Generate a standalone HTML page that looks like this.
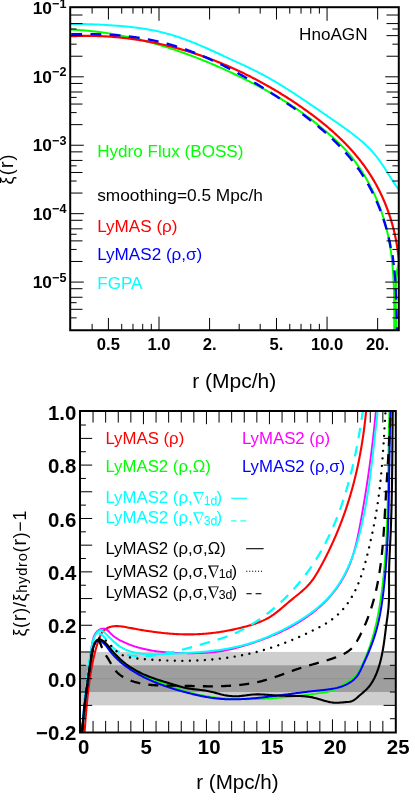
<!DOCTYPE html>
<html lang="en"><head><meta charset="utf-8"><title>xi(r) comparison</title>
<style>html,body{margin:0;padding:0;background:#fff;overflow:hidden;width:415px;height:804px;}svg{display:block;will-change:transform;}</style>
</head><body>
<svg width="415" height="804" viewBox="0 0 415 804">
<rect x="0" y="0" width="415" height="804" fill="#fff"/>
<defs><clipPath id="ct"><rect x="70.2" y="7.2" width="328.6" height="323.05"/></clipPath>
<clipPath id="cb"><rect x="80" y="411" width="315.8" height="321.5"/></clipPath></defs>
<g clip-path="url(#ct)">
<path d="M68.87 29.45 L70.09 29.5 L71.31 29.55 L72.53 29.61 L73.74 29.68 L74.96 29.75 L76.17 29.82 L77.38 29.9 L78.6 29.98 L79.81 30.06 L81.02 30.15 L82.23 30.25 L83.44 30.35 L84.64 30.45 L85.85 30.56 L87.05 30.67 L88.26 30.79 L89.46 30.91 L90.67 31.03 L91.87 31.16 L93.07 31.29 L94.27 31.43 L95.47 31.57 L96.66 31.71 L97.86 31.86 L99.06 32.01 L100.25 32.17 L101.45 32.33 L102.64 32.5 L103.83 32.66 L105.02 32.84 L106.21 33.01 L107.4 33.19 L108.59 33.38 L109.78 33.57 L110.97 33.76 L112.15 33.96 L113.34 34.16 L114.52 34.36 L115.71 34.57 L116.89 34.78 L118.07 35 L119.25 35.22 L120.43 35.44 L121.61 35.66 L122.79 35.9 L123.97 36.13 L125.14 36.37 L126.32 36.61 L127.49 36.85 L128.67 37.1 L129.84 37.36 L131.01 37.61 L132.18 37.87 L133.35 38.14 L134.52 38.4 L135.69 38.67 L136.86 38.95 L138.03 39.23 L139.19 39.51 L140.36 39.79 L141.52 40.08 L142.69 40.37 L143.85 40.67 L145.01 40.96 L146.17 41.27 L147.33 41.57 L148.49 41.88 L149.65 42.19 L150.81 42.51 L151.96 42.83 L153.12 43.15 L154.28 43.47 L155.43 43.8 L156.58 44.13 L157.74 44.47 L158.89 44.81 L160.04 45.15 L161.19 45.49 L162.34 45.84 L163.49 46.19 L164.64 46.55 L165.78 46.91 L166.93 47.27 L168.08 47.63 L169.22 48 L170.37 48.37 L171.51 48.74 L172.65 49.12 L173.79 49.49 L174.93 49.88 L176.07 50.26 L177.21 50.65 L178.35 51.04 L179.49 51.43 L180.63 51.83 L181.76 52.23 L182.9 52.63 L184.03 53.04 L185.17 53.45 L186.3 53.86 L187.43 54.27 L188.57 54.69 L189.7 55.11 L190.83 55.53 L191.96 55.96 L193.09 56.39 L194.21 56.82 L195.34 57.25 L196.47 57.69 L197.59 58.13 L198.72 58.57 L199.84 59.01 L200.96 59.46 L202.08 59.91 L203.2 60.36 L204.32 60.81 L205.44 61.27 L206.56 61.73 L207.68 62.19 L208.79 62.66 L209.91 63.13 L211.02 63.59 L212.13 64.07 L213.25 64.54 L214.36 65.02 L215.47 65.5 L216.57 65.98 L217.68 66.46 L218.79 66.95 L219.89 67.44 L221 67.93 L222.1 68.42 L223.21 68.92 L224.31 69.42 L225.41 69.92 L226.51 70.42 L227.6 70.92 L228.7 71.43 L229.8 71.94 L230.89 72.45 L231.98 72.97 L233.07 73.48 L234.17 74 L235.25 74.52 L236.34 75.04 L237.43 75.56 L238.52 76.09 L239.6 76.62 L240.68 77.15 L241.77 77.68 L242.85 78.21 L243.93 78.75 L245 79.29 L246.08 79.83 L247.16 80.37 L248.23 80.91 L249.3 81.46 L250.38 82 L251.45 82.55 L252.51 83.1 L253.58 83.66 L254.65 84.21 L255.71 84.77 L256.78 85.32 L257.84 85.88 L258.9 86.44 L259.96 87.01 L261.01 87.57 L262.07 88.14 L263.12 88.71 L264.18 89.28 L265.23 89.86 L266.28 90.43 L267.33 91.01 L268.37 91.59 L269.42 92.18 L270.46 92.76 L271.5 93.35 L272.54 93.94 L273.58 94.54 L274.62 95.14 L275.65 95.74 L276.69 96.34 L277.72 96.95 L278.75 97.56 L279.78 98.17 L280.8 98.79 L281.83 99.41 L282.85 100.03 L283.87 100.66 L284.89 101.29 L285.9 101.92 L286.92 102.56 L287.93 103.21 L288.94 103.85 L289.95 104.5 L290.96 105.16 L291.97 105.82 L292.97 106.48 L293.97 107.15 L294.97 107.82 L295.97 108.49 L296.96 109.17 L297.96 109.86 L298.95 110.55 L299.94 111.24 L300.92 111.94 L301.91 112.64 L302.89 113.35 L303.87 114.06 L304.85 114.78 L305.82 115.5 L306.8 116.22 L307.77 116.95 L308.74 117.68 L309.7 118.41 L310.67 119.15 L311.63 119.89 L312.59 120.64 L313.55 121.38 L314.5 122.13 L315.45 122.89 L316.4 123.64 L317.35 124.4 L318.3 125.16 L319.24 125.92 L320.18 126.69 L321.12 127.45 L322.05 128.22 L322.98 128.99 L323.91 129.76 L324.84 130.54 L325.76 131.31 L326.68 132.09 L327.6 132.87 L328.52 133.66 L329.43 134.44 L330.33 135.23 L331.24 136.02 L332.13 136.82 L333.03 137.62 L333.92 138.42 L334.8 139.23 L335.68 140.04 L336.55 140.86 L337.42 141.68 L338.29 142.5 L339.14 143.33 L339.99 144.17 L340.84 145.01 L341.68 145.85 L342.51 146.7 L343.34 147.56 L344.16 148.42 L344.97 149.29 L345.77 150.17 L346.57 151.05 L347.36 151.94 L348.14 152.84 L348.92 153.74 L349.68 154.65 L350.44 155.57 L351.19 156.5 L351.93 157.43 L352.67 158.37 L353.4 159.32 L354.12 160.27 L354.83 161.23 L355.54 162.19 L356.24 163.16 L356.93 164.14 L357.62 165.12 L358.3 166.11 L358.98 167.1 L359.65 168.1 L360.31 169.1 L360.97 170.11 L361.62 171.13 L362.27 172.14 L362.91 173.17 L363.55 174.19 L364.18 175.22 L364.8 176.26 L365.42 177.3 L366.03 178.35 L366.63 179.4 L367.23 180.45 L367.82 181.51 L368.41 182.57 L368.99 183.64 L369.56 184.71 L370.13 185.78 L370.69 186.86 L371.25 187.94 L371.79 189.02 L372.33 190.11 L372.87 191.2 L373.4 192.3 L373.92 193.4 L374.43 194.5 L374.94 195.6 L375.44 196.71 L375.93 197.82 L376.42 198.93 L376.9 200.05 L377.37 201.17 L377.84 202.29 L378.3 203.42 L378.75 204.54 L379.19 205.67 L379.63 206.81 L380.06 207.94 L380.48 209.08 L380.9 210.22 L381.3 211.36 L381.7 212.5 L382.1 213.64 L382.48 214.79 L382.86 215.94 L383.23 217.09 L383.59 218.24 L383.94 219.4 L384.29 220.55 L384.63 221.71 L384.96 222.87 L385.29 224.02 L385.6 225.19 L385.91 226.35 L386.21 227.51 L386.51 228.68 L386.79 229.84 L387.07 231.01 L387.35 232.18 L387.61 233.35 L387.87 234.52 L388.12 235.69 L388.37 236.86 L388.61 238.04 L388.84 239.21 L389.07 240.39 L389.29 241.57 L389.5 242.75 L389.71 243.93 L389.91 245.11 L390.11 246.29 L390.3 247.47 L390.48 248.66 L390.66 249.84 L390.83 251.03 L391 252.22 L391.16 253.4 L391.32 254.59 L391.47 255.78 L391.62 256.97 L391.76 258.16 L391.9 259.36 L392.03 260.55 L392.15 261.74 L392.28 262.94 L392.39 264.13 L392.5 265.33 L392.61 266.53 L392.72 267.72 L392.82 268.92 L392.91 270.12 L393 271.32 L393.09 272.52 L393.17 273.72 L393.25 274.92 L393.33 276.12 L393.4 277.32 L393.47 278.52 L393.53 279.73 L393.59 280.93 L393.65 282.13 L393.7 283.34 L393.76 284.54 L393.8 285.75 L393.85 286.95 L393.89 288.16 L393.93 289.36 L393.97 290.57 L394 291.78 L394.03 292.98 L394.06 294.19 L394.09 295.4 L394.11 296.6 L394.14 297.81 L394.16 299.02 L394.17 300.23 L394.19 301.44 L394.2 302.64 L394.22 303.85 L394.23 305.06 L394.24 306.27 L394.24 307.48 L394.25 308.68 L394.25 309.89 L394.26 311.1 L394.26 312.31 L394.26 313.52 L394.26 314.72 L394.26 315.93 L394.26 317.14 L394.26 318.35 L394.25 319.55 L394.25 320.76 L394.24 321.97 L394.24 323.17 L394.23 324.38 L394.23 325.59 L394.22 326.79 L394.22 328 L394.21 329.2 L394.21 330.41 L394.2 331.61 L394.2 332.82 L394.19 334.02" fill="none" stroke="#00ff00" stroke-width="2" stroke-linejoin="round"/>
<path d="M395.59 334 L395.65 332.77 L395.7 331.54 L395.74 330.31 L395.78 329.08 L395.8 327.85 L395.82 326.62 L395.84 325.38 L395.84 324.15 L395.85 322.91 L395.84 321.68 L395.84 320.44 L395.83 319.2 L395.81 317.97 L395.79 316.73 L395.77 315.49 L395.75 314.25 L395.73 313.01 L395.7 311.77 L395.67 310.53 L395.65 309.29 L395.62 308.05 L395.59 306.81 L395.57 305.56 L395.54 304.32 L395.52 303.08 L395.5 301.84 L395.49 300.6 L395.48 299.36 L395.47 298.12 L395.46 296.88 L395.46 295.64 L395.47 294.41 L395.48 293.17 L395.5 291.93 L395.52 290.69 L395.55 289.46 L395.59 288.22 L395.64 286.99 L395.69 285.76 L395.76 284.53 L395.83 283.29 L395.91 282.06 L396.01 280.84 L396.11 279.61 L396.23 278.38 L396.36 277.16 L396.5 275.93 L396.65 274.71 L396.82 273.49 L397 272.27 L397.19 271.06 L397.4 269.84 L397.62 268.63 L397.86 267.42 L398.12 266.21 L398.39 265 L398.68 263.79 L398.98 262.59 L399.31 261.39 L399.65 260.19 L400.01 258.99" fill="none" stroke="#00ff00" stroke-width="2.4" stroke-linejoin="round"/>
<path d="M68.94 36.38 L70.16 36.31 L71.37 36.25 L72.59 36.19 L73.8 36.14 L75.02 36.09 L76.23 36.05 L77.44 36.01 L78.66 35.98 L79.87 35.95 L81.08 35.92 L82.3 35.9 L83.51 35.89 L84.72 35.87 L85.93 35.87 L87.14 35.86 L88.35 35.87 L89.56 35.87 L90.77 35.89 L91.98 35.9 L93.19 35.92 L94.4 35.95 L95.6 35.98 L96.81 36.01 L98.02 36.05 L99.22 36.09 L100.43 36.14 L101.64 36.19 L102.84 36.25 L104.04 36.31 L105.25 36.37 L106.45 36.44 L107.65 36.51 L108.86 36.59 L110.06 36.67 L111.26 36.76 L112.46 36.85 L113.66 36.95 L114.86 37.05 L116.06 37.15 L117.26 37.26 L118.45 37.37 L119.65 37.49 L120.85 37.61 L122.04 37.74 L123.24 37.87 L124.43 38 L125.63 38.14 L126.82 38.28 L128.01 38.43 L129.2 38.58 L130.4 38.74 L131.59 38.89 L132.78 39.06 L133.97 39.23 L135.15 39.4 L136.34 39.57 L137.53 39.75 L138.72 39.94 L139.9 40.13 L141.09 40.32 L142.27 40.52 L143.45 40.72 L144.64 40.92 L145.82 41.13 L147 41.35 L148.18 41.56 L149.36 41.78 L150.54 42.01 L151.72 42.24 L152.89 42.47 L154.07 42.71 L155.24 42.95 L156.42 43.2 L157.59 43.45 L158.76 43.7 L159.94 43.96 L161.11 44.22 L162.28 44.48 L163.45 44.75 L164.62 45.03 L165.78 45.3 L166.95 45.59 L168.12 45.87 L169.28 46.16 L170.44 46.45 L171.61 46.75 L172.77 47.05 L173.93 47.35 L175.09 47.66 L176.25 47.97 L177.41 48.29 L178.57 48.61 L179.72 48.93 L180.88 49.26 L182.03 49.59 L183.18 49.93 L184.34 50.26 L185.49 50.61 L186.64 50.95 L187.79 51.3 L188.93 51.66 L190.08 52.01 L191.23 52.37 L192.37 52.74 L193.52 53.11 L194.66 53.48 L195.8 53.85 L196.94 54.23 L198.08 54.62 L199.22 55 L200.36 55.39 L201.49 55.79 L202.63 56.19 L203.76 56.59 L204.89 56.99 L206.02 57.4 L207.15 57.81 L208.28 58.23 L209.41 58.65 L210.54 59.07 L211.66 59.5 L212.79 59.93 L213.91 60.36 L215.03 60.79 L216.15 61.24 L217.27 61.68 L218.39 62.13 L219.51 62.58 L220.62 63.03 L221.74 63.49 L222.85 63.95 L223.96 64.41 L225.07 64.88 L226.18 65.35 L227.29 65.83 L228.4 66.31 L229.5 66.79 L230.6 67.27 L231.71 67.76 L232.81 68.25 L233.91 68.75 L235.01 69.24 L236.1 69.75 L237.2 70.25 L238.29 70.76 L239.39 71.27 L240.48 71.79 L241.57 72.3 L242.66 72.82 L243.75 73.35 L244.83 73.88 L245.92 74.41 L247 74.94 L248.08 75.48 L249.16 76.02 L250.24 76.56 L251.32 77.11 L252.39 77.66 L253.47 78.22 L254.54 78.77 L255.61 79.33 L256.68 79.9 L257.75 80.46 L258.82 81.03 L259.88 81.6 L260.95 82.18 L262.01 82.76 L263.07 83.34 L264.13 83.92 L265.18 84.51 L266.24 85.1 L267.3 85.7 L268.35 86.29 L269.4 86.89 L270.45 87.5 L271.5 88.1 L272.54 88.71 L273.59 89.32 L274.63 89.94 L275.67 90.56 L276.71 91.18 L277.75 91.8 L278.79 92.43 L279.82 93.06 L280.85 93.69 L281.89 94.32 L282.92 94.96 L283.94 95.6 L284.97 96.25 L285.99 96.9 L287.02 97.55 L288.04 98.2 L289.06 98.85 L290.08 99.51 L291.09 100.17 L292.11 100.84 L293.12 101.51 L294.13 102.17 L295.14 102.85 L296.14 103.52 L297.15 104.2 L298.15 104.88 L299.15 105.57 L300.15 106.25 L301.15 106.94 L302.15 107.63 L303.14 108.33 L304.13 109.03 L305.12 109.73 L306.11 110.43 L307.09 111.14 L308.08 111.85 L309.06 112.56 L310.03 113.27 L311.01 113.99 L311.98 114.72 L312.95 115.44 L313.92 116.17 L314.88 116.9 L315.85 117.63 L316.8 118.37 L317.76 119.11 L318.71 119.86 L319.66 120.6 L320.61 121.36 L321.55 122.11 L322.49 122.87 L323.43 123.63 L324.36 124.39 L325.3 125.16 L326.22 125.93 L327.15 126.71 L328.07 127.49 L328.98 128.27 L329.89 129.05 L330.8 129.84 L331.71 130.64 L332.61 131.43 L333.51 132.23 L334.4 133.04 L335.29 133.85 L336.17 134.66 L337.05 135.47 L337.93 136.29 L338.8 137.12 L339.67 137.94 L340.53 138.77 L341.39 139.61 L342.25 140.45 L343.1 141.29 L343.94 142.14 L344.78 142.99 L345.62 143.84 L346.45 144.7 L347.28 145.57 L348.1 146.43 L348.91 147.31 L349.73 148.18 L350.53 149.06 L351.33 149.95 L352.13 150.83 L352.92 151.73 L353.7 152.63 L354.48 153.53 L355.26 154.43 L356.03 155.34 L356.79 156.26 L357.55 157.18 L358.3 158.1 L359.04 159.03 L359.79 159.96 L360.52 160.9 L361.25 161.84 L361.97 162.79 L362.69 163.74 L363.4 164.7 L364.1 165.66 L364.8 166.63 L365.49 167.6 L366.18 168.57 L366.86 169.55 L367.53 170.54 L368.19 171.53 L368.85 172.52 L369.51 173.52 L370.15 174.53 L370.79 175.54 L371.42 176.55 L372.05 177.57 L372.67 178.59 L373.28 179.62 L373.89 180.65 L374.49 181.69 L375.08 182.73 L375.67 183.78 L376.25 184.83 L376.82 185.88 L377.38 186.94 L377.94 188 L378.5 189.07 L379.04 190.14 L379.58 191.22 L380.11 192.3 L380.64 193.38 L381.15 194.47 L381.66 195.56 L382.17 196.65 L382.67 197.75 L383.16 198.85 L383.64 199.96 L384.12 201.06 L384.58 202.18 L385.05 203.29 L385.5 204.41 L385.95 205.53 L386.39 206.66 L386.83 207.79 L387.25 208.92 L387.67 210.05 L388.09 211.19 L388.49 212.33 L388.89 213.48 L389.28 214.63 L389.67 215.77 L390.05 216.93 L390.42 218.08 L390.78 219.24 L391.14 220.4 L391.48 221.57 L391.83 222.73 L392.16 223.9 L392.49 225.07 L392.81 226.24 L393.12 227.42 L393.42 228.6 L393.72 229.78 L394.01 230.96 L394.3 232.15 L394.57 233.33 L394.84 234.52 L395.1 235.71 L395.36 236.9 L395.6 238.1 L395.84 239.3 L396.08 240.49 L396.3 241.69 L396.52 242.9 L396.73 244.1 L396.93 245.3 L397.12 246.51 L397.31 247.72 L397.49 248.93 L397.66 250.14 L397.83 251.35 L397.98 252.56 L398.13 253.78 L398.27 254.99 L398.41 256.21 L398.54 257.42 L398.65 258.64 L398.77 259.86 L398.87 261.08 L398.97 262.3" fill="none" stroke="#ff0000" stroke-width="2.2" stroke-linejoin="round"/>
<path d="M69 23.92 L70.21 23.92 L71.42 23.92 L72.63 23.92 L73.84 23.93 L75.05 23.93 L76.25 23.94 L77.46 23.95 L78.67 23.97 L79.87 23.99 L81.08 24.01 L82.29 24.03 L83.49 24.05 L84.7 24.08 L85.9 24.11 L87.1 24.14 L88.31 24.18 L89.51 24.21 L90.71 24.25 L91.92 24.29 L93.12 24.34 L94.32 24.39 L95.53 24.44 L96.73 24.49 L97.93 24.54 L99.13 24.6 L100.34 24.66 L101.54 24.72 L102.74 24.78 L103.94 24.85 L105.15 24.92 L106.35 24.99 L107.55 25.06 L108.75 25.14 L109.96 25.22 L111.16 25.3 L112.36 25.38 L113.57 25.47 L114.77 25.55 L115.98 25.64 L117.18 25.74 L118.38 25.83 L119.59 25.93 L120.79 26.03 L122 26.14 L123.2 26.24 L124.41 26.35 L125.61 26.47 L126.82 26.59 L128.02 26.71 L129.22 26.83 L130.42 26.96 L131.63 27.1 L132.83 27.23 L134.03 27.38 L135.23 27.52 L136.43 27.67 L137.63 27.83 L138.83 27.99 L140.02 28.16 L141.22 28.33 L142.41 28.51 L143.61 28.69 L144.8 28.88 L145.99 29.07 L147.18 29.27 L148.37 29.47 L149.56 29.69 L150.75 29.9 L151.93 30.13 L153.11 30.36 L154.3 30.59 L155.48 30.84 L156.65 31.09 L157.83 31.35 L159.01 31.61 L160.18 31.88 L161.35 32.16 L162.52 32.45 L163.69 32.74 L164.85 33.04 L166.01 33.35 L167.17 33.67 L168.33 33.99 L169.49 34.32 L170.65 34.65 L171.8 35 L172.95 35.34 L174.1 35.7 L175.25 36.06 L176.39 36.43 L177.54 36.8 L178.68 37.18 L179.82 37.56 L180.96 37.95 L182.09 38.35 L183.23 38.75 L184.36 39.16 L185.49 39.57 L186.62 39.99 L187.75 40.41 L188.87 40.84 L190 41.28 L191.12 41.71 L192.24 42.16 L193.36 42.6 L194.47 43.05 L195.59 43.51 L196.7 43.97 L197.82 44.43 L198.93 44.9 L200.04 45.37 L201.15 45.84 L202.26 46.32 L203.37 46.8 L204.47 47.28 L205.58 47.76 L206.68 48.25 L207.79 48.74 L208.89 49.23 L209.99 49.73 L211.09 50.22 L212.19 50.72 L213.29 51.22 L214.39 51.72 L215.49 52.23 L216.59 52.73 L217.69 53.24 L218.79 53.74 L219.88 54.25 L220.98 54.76 L222.08 55.27 L223.17 55.78 L224.27 56.29 L225.37 56.8 L226.47 57.3 L227.56 57.81 L228.66 58.32 L229.76 58.83 L230.85 59.34 L231.95 59.84 L233.05 60.35 L234.15 60.86 L235.25 61.36 L236.34 61.86 L237.44 62.37 L238.54 62.87 L239.64 63.38 L240.73 63.88 L241.83 64.39 L242.92 64.9 L244.02 65.4 L245.11 65.92 L246.21 66.43 L247.3 66.94 L248.39 67.46 L249.47 67.98 L250.56 68.5 L251.65 69.03 L252.73 69.55 L253.81 70.09 L254.89 70.62 L255.96 71.16 L257.04 71.71 L258.11 72.26 L259.18 72.81 L260.25 73.37 L261.31 73.93 L262.37 74.5 L263.43 75.07 L264.49 75.64 L265.55 76.22 L266.6 76.8 L267.65 77.38 L268.7 77.97 L269.75 78.57 L270.8 79.16 L271.84 79.76 L272.88 80.36 L273.92 80.97 L274.96 81.58 L276 82.19 L277.03 82.81 L278.07 83.43 L279.1 84.05 L280.13 84.67 L281.16 85.3 L282.18 85.93 L283.21 86.57 L284.23 87.2 L285.25 87.84 L286.27 88.48 L287.29 89.12 L288.31 89.77 L289.33 90.42 L290.34 91.07 L291.36 91.72 L292.37 92.37 L293.38 93.03 L294.4 93.69 L295.41 94.35 L296.41 95.01 L297.42 95.67 L298.43 96.34 L299.44 97 L300.44 97.67 L301.45 98.34 L302.45 99.01 L303.45 99.69 L304.45 100.36 L305.46 101.03 L306.46 101.71 L307.46 102.39 L308.46 103.06 L309.46 103.74 L310.45 104.42 L311.45 105.1 L312.45 105.78 L313.45 106.46 L314.45 107.15 L315.44 107.83 L316.44 108.51 L317.44 109.19 L318.43 109.88 L319.43 110.56 L320.42 111.24 L321.42 111.93 L322.41 112.61 L323.41 113.29 L324.41 113.98 L325.4 114.66 L326.4 115.34 L327.39 116.03 L328.39 116.71 L329.38 117.4 L330.37 118.08 L331.37 118.77 L332.36 119.46 L333.35 120.14 L334.34 120.83 L335.34 121.52 L336.33 122.21 L337.31 122.91 L338.3 123.6 L339.29 124.29 L340.28 124.99 L341.26 125.69 L342.25 126.39 L343.23 127.09 L344.21 127.8 L345.19 128.5 L346.17 129.21 L347.15 129.92 L348.12 130.64 L349.1 131.35 L350.07 132.07 L351.04 132.79 L352.01 133.52 L352.97 134.25 L353.93 134.98 L354.89 135.72 L355.84 136.46 L356.78 137.21 L357.73 137.96 L358.66 138.72 L359.59 139.49 L360.52 140.26 L361.43 141.04 L362.34 141.82 L363.25 142.62 L364.14 143.41 L365.03 144.22 L365.91 145.04 L366.77 145.86 L367.63 146.69 L368.48 147.54 L369.32 148.39 L370.15 149.25 L370.97 150.12 L371.78 151 L372.58 151.89 L373.36 152.79 L374.14 153.7 L374.9 154.62 L375.66 155.55 L376.4 156.49 L377.14 157.44 L377.86 158.39 L378.58 159.36 L379.29 160.33 L379.99 161.31 L380.68 162.29 L381.37 163.28 L382.05 164.28 L382.73 165.28 L383.39 166.29 L384.06 167.3 L384.72 168.31 L385.38 169.33 L386.03 170.35 L386.68 171.37 L387.33 172.39 L387.98 173.42 L388.63 174.44 L389.28 175.46 L389.93 176.49 L390.58 177.51 L391.23 178.53 L391.88 179.55 L392.54 180.57 L393.2 181.58 L393.86 182.59 L394.53 183.59 L395.21 184.59 L395.88 185.59 L396.57 186.58 L397.26 187.56 L397.96 188.53 L398.67 189.5 L399.38 190.46 L400.11 191.41" fill="none" stroke="#00ffff" stroke-width="2" stroke-linejoin="round"/>
<path d="M68.96 34.35 L70.16 34.31 L71.36 34.28 L72.56 34.24 L73.76 34.21 L74.96 34.18 L76.16 34.15 L77.36 34.13 L78.57 34.11 L79.77 34.09 L80.98 34.08 L82.18 34.07 L83.39 34.06 L84.59 34.05 L85.8 34.05 L87.01 34.05 L88.22 34.06 L89.42 34.07 L90.63 34.08 L91.84 34.09 L93.05 34.11 L94.26 34.14 L95.47 34.16 L96.68 34.19 L97.89 34.22 L99.1 34.26 L100.31 34.3 L101.52 34.35 L102.73 34.39 L103.94 34.44 L105.15 34.5 L106.36 34.56 L107.56 34.62 L108.77 34.69 L109.98 34.76 L111.19 34.84 L112.4 34.92 L113.61 35 L114.81 35.09 L116.02 35.18 L117.23 35.28 L118.43 35.38 L119.64 35.49 L120.84 35.6 L122.05 35.71 L123.25 35.83 L124.45 35.95 L125.65 36.08 L126.86 36.21 L128.06 36.35 L129.26 36.49 L130.45 36.63 L131.65 36.78 L132.85 36.94 L134.05 37.1 L135.24 37.26 L136.43 37.43 L137.63 37.61 L138.82 37.79 L140.01 37.97 L141.2 38.16 L142.39 38.36 L143.57 38.56 L144.76 38.76 L145.94 38.97 L147.13 39.19 L148.31 39.41 L149.49 39.64 L150.67 39.87 L151.84 40.11 L153.02 40.35 L154.19 40.59 L155.37 40.85 L156.54 41.11 L157.71 41.37 L158.87 41.64 L160.04 41.92 L161.2 42.2 L162.36 42.48 L163.52 42.78 L164.68 43.08 L165.84 43.38 L166.99 43.69 L168.15 44 L169.3 44.32 L170.45 44.65 L171.6 44.98 L172.74 45.31 L173.89 45.66 L175.03 46 L176.17 46.35 L177.31 46.71 L178.45 47.07 L179.59 47.44 L180.72 47.81 L181.85 48.19 L182.98 48.57 L184.11 48.96 L185.24 49.35 L186.37 49.74 L187.49 50.14 L188.62 50.55 L189.74 50.96 L190.86 51.38 L191.98 51.79 L193.09 52.22 L194.21 52.65 L195.32 53.08 L196.43 53.52 L197.55 53.96 L198.65 54.41 L199.76 54.86 L200.87 55.31 L201.97 55.77 L203.08 56.24 L204.18 56.7 L205.28 57.18 L206.38 57.65 L207.48 58.13 L208.57 58.62 L209.67 59.1 L210.76 59.6 L211.85 60.09 L212.94 60.59 L214.03 61.1 L215.12 61.6 L216.2 62.11 L217.29 62.63 L218.37 63.15 L219.45 63.67 L220.54 64.19 L221.61 64.72 L222.69 65.26 L223.77 65.79 L224.84 66.33 L225.92 66.87 L226.99 67.42 L228.06 67.97 L229.13 68.52 L230.2 69.08 L231.27 69.64 L232.34 70.2 L233.4 70.76 L234.47 71.33 L235.53 71.9 L236.59 72.48 L237.65 73.06 L238.71 73.64 L239.77 74.22 L240.82 74.8 L241.88 75.39 L242.93 75.98 L243.99 76.58 L245.04 77.18 L246.09 77.77 L247.14 78.38 L248.19 78.98 L249.24 79.59 L250.28 80.2 L251.33 80.81 L252.37 81.42 L253.41 82.04 L254.46 82.66 L255.5 83.28 L256.54 83.9 L257.58 84.53 L258.61 85.15 L259.65 85.78 L260.69 86.42 L261.72 87.05 L262.76 87.68 L263.79 88.32 L264.82 88.96 L265.85 89.6 L266.88 90.25 L267.91 90.89 L268.94 91.54 L269.96 92.19 L270.99 92.84 L272.01 93.49 L273.04 94.14 L274.06 94.79 L275.08 95.45 L276.11 96.11 L277.13 96.77 L278.14 97.43 L279.16 98.09 L280.18 98.76 L281.19 99.42 L282.21 100.09 L283.22 100.76 L284.23 101.43 L285.24 102.11 L286.25 102.78 L287.26 103.46 L288.26 104.14 L289.27 104.82 L290.27 105.5 L291.27 106.19 L292.26 106.88 L293.26 107.57 L294.25 108.26 L295.25 108.96 L296.23 109.65 L297.22 110.35 L298.21 111.06 L299.19 111.76 L300.17 112.47 L301.15 113.18 L302.12 113.89 L303.1 114.61 L304.07 115.32 L305.04 116.05 L306 116.77 L306.96 117.5 L307.92 118.22 L308.88 118.96 L309.84 119.69 L310.79 120.43 L311.73 121.17 L312.68 121.91 L313.62 122.66 L314.56 123.41 L315.5 124.16 L316.43 124.92 L317.36 125.68 L318.28 126.44 L319.2 127.21 L320.12 127.98 L321.04 128.75 L321.95 129.53 L322.86 130.31 L323.76 131.09 L324.66 131.88 L325.56 132.67 L326.45 133.47 L327.34 134.26 L328.22 135.07 L329.1 135.87 L329.98 136.68 L330.85 137.49 L331.72 138.31 L332.58 139.13 L333.44 139.96 L334.29 140.79 L335.14 141.62 L335.99 142.46 L336.83 143.3 L337.67 144.14 L338.5 144.99 L339.33 145.85 L340.15 146.71 L340.97 147.57 L341.78 148.44 L342.59 149.31 L343.39 150.18 L344.19 151.06 L344.98 151.95 L345.76 152.84 L346.55 153.73 L347.32 154.63 L348.09 155.53 L348.86 156.44 L349.62 157.36 L350.37 158.27 L351.12 159.2 L351.87 160.12 L352.6 161.06 L353.34 161.99 L354.06 162.94 L354.78 163.88 L355.5 164.84 L356.21 165.79 L356.91 166.76 L357.6 167.72 L358.29 168.7 L358.98 169.68 L359.66 170.66 L360.33 171.65 L360.99 172.64 L361.65 173.64 L362.3 174.65 L362.95 175.65 L363.59 176.67 L364.22 177.69 L364.85 178.71 L365.47 179.74 L366.09 180.77 L366.7 181.81 L367.3 182.85 L367.89 183.89 L368.48 184.94 L369.07 186 L369.64 187.06 L370.21 188.12 L370.78 189.18 L371.33 190.25 L371.88 191.33 L372.43 192.41 L372.97 193.49 L373.5 194.57 L374.02 195.66 L374.54 196.76 L375.05 197.85 L375.56 198.95 L376.05 200.05 L376.55 201.16 L377.03 202.27 L377.51 203.38 L377.98 204.5 L378.45 205.62 L378.91 206.74 L379.36 207.86 L379.8 208.99 L380.24 210.12 L380.68 211.25 L381.1 212.39 L381.52 213.53 L381.93 214.67 L382.34 215.81 L382.73 216.96 L383.13 218.1 L383.51 219.25 L383.89 220.41 L384.26 221.56 L384.62 222.72 L384.98 223.88 L385.33 225.04 L385.68 226.2 L386.01 227.36 L386.34 228.53 L386.67 229.69 L386.98 230.86 L387.29 232.03 L387.59 233.2 L387.89 234.38 L388.18 235.55 L388.46 236.73 L388.73 237.9 L389 239.08 L389.26 240.26 L389.51 241.44 L389.76 242.62 L390 243.8 L390.23 244.98 L390.46 246.16 L390.67 247.35 L390.88 248.53 L391.09 249.72 L391.28 250.9 L391.47 252.09" fill="none" stroke="#0000ff" stroke-width="2.4" stroke-linejoin="round" stroke-dasharray="10.9 8.34" stroke-dashoffset="17"/>
<line x1="392.6" y1="255.2" x2="393.8" y2="265.1" stroke="#0000ff" stroke-width="2.2"/>
<line x1="394.5" y1="270.4" x2="395.4" y2="281.3" stroke="#0000ff" stroke-width="2.2"/>
<line x1="395.7" y1="288.6" x2="396.2" y2="299.6" stroke="#0000ff" stroke-width="2.2"/>
<line x1="396.4" y1="309.5" x2="396.8" y2="318.9" stroke="#0000ff" stroke-width="2.2"/>
<line x1="396.9" y1="327.2" x2="397" y2="332" stroke="#0000ff" stroke-width="2.2"/>
</g>
<rect x="70.2" y="7.2" width="328.6" height="323.05" fill="none" stroke="#000" stroke-width="2"/>
<line x1="70.2" y1="15.03" x2="82.5" y2="15.03" stroke="#000" stroke-width="1"/>
<line x1="398.8" y1="15.03" x2="386.5" y2="15.03" stroke="#000" stroke-width="1"/>
<line x1="70.2" y1="23.58" x2="82.5" y2="23.58" stroke="#000" stroke-width="1"/>
<line x1="398.8" y1="23.58" x2="386.5" y2="23.58" stroke="#000" stroke-width="1"/>
<line x1="70.2" y1="29" x2="76.6" y2="29" stroke="#000" stroke-width="1"/>
<line x1="398.8" y1="29" x2="392.4" y2="29" stroke="#000" stroke-width="1"/>
<line x1="70.2" y1="35.63" x2="82.5" y2="35.63" stroke="#000" stroke-width="1"/>
<line x1="398.8" y1="35.63" x2="386.5" y2="35.63" stroke="#000" stroke-width="1"/>
<line x1="70.2" y1="44.18" x2="76.6" y2="44.18" stroke="#000" stroke-width="1"/>
<line x1="398.8" y1="44.18" x2="392.4" y2="44.18" stroke="#000" stroke-width="1"/>
<line x1="70.2" y1="56.22" x2="82.5" y2="56.22" stroke="#000" stroke-width="1"/>
<line x1="398.8" y1="56.22" x2="386.5" y2="56.22" stroke="#000" stroke-width="1"/>
<line x1="70.2" y1="76.82" x2="83.8" y2="76.82" stroke="#000" stroke-width="1"/>
<line x1="398.8" y1="76.82" x2="385.2" y2="76.82" stroke="#000" stroke-width="1"/>
<line x1="70.2" y1="83.45" x2="82.5" y2="83.45" stroke="#000" stroke-width="1"/>
<line x1="398.8" y1="83.45" x2="386.5" y2="83.45" stroke="#000" stroke-width="1"/>
<line x1="70.2" y1="92" x2="82.5" y2="92" stroke="#000" stroke-width="1"/>
<line x1="398.8" y1="92" x2="386.5" y2="92" stroke="#000" stroke-width="1"/>
<line x1="70.2" y1="97.42" x2="76.6" y2="97.42" stroke="#000" stroke-width="1"/>
<line x1="398.8" y1="97.42" x2="392.4" y2="97.42" stroke="#000" stroke-width="1"/>
<line x1="70.2" y1="104.05" x2="82.5" y2="104.05" stroke="#000" stroke-width="1"/>
<line x1="398.8" y1="104.05" x2="386.5" y2="104.05" stroke="#000" stroke-width="1"/>
<line x1="70.2" y1="112.6" x2="76.6" y2="112.6" stroke="#000" stroke-width="1"/>
<line x1="398.8" y1="112.6" x2="392.4" y2="112.6" stroke="#000" stroke-width="1"/>
<line x1="70.2" y1="124.64" x2="82.5" y2="124.64" stroke="#000" stroke-width="1"/>
<line x1="398.8" y1="124.64" x2="386.5" y2="124.64" stroke="#000" stroke-width="1"/>
<line x1="70.2" y1="145.24" x2="83.8" y2="145.24" stroke="#000" stroke-width="1"/>
<line x1="398.8" y1="145.24" x2="385.2" y2="145.24" stroke="#000" stroke-width="1"/>
<line x1="70.2" y1="151.87" x2="82.5" y2="151.87" stroke="#000" stroke-width="1"/>
<line x1="398.8" y1="151.87" x2="386.5" y2="151.87" stroke="#000" stroke-width="1"/>
<line x1="70.2" y1="160.42" x2="82.5" y2="160.42" stroke="#000" stroke-width="1"/>
<line x1="398.8" y1="160.42" x2="386.5" y2="160.42" stroke="#000" stroke-width="1"/>
<line x1="70.2" y1="165.84" x2="76.6" y2="165.84" stroke="#000" stroke-width="1"/>
<line x1="398.8" y1="165.84" x2="392.4" y2="165.84" stroke="#000" stroke-width="1"/>
<line x1="70.2" y1="172.47" x2="82.5" y2="172.47" stroke="#000" stroke-width="1"/>
<line x1="398.8" y1="172.47" x2="386.5" y2="172.47" stroke="#000" stroke-width="1"/>
<line x1="70.2" y1="181.02" x2="76.6" y2="181.02" stroke="#000" stroke-width="1"/>
<line x1="398.8" y1="181.02" x2="392.4" y2="181.02" stroke="#000" stroke-width="1"/>
<line x1="70.2" y1="193.06" x2="82.5" y2="193.06" stroke="#000" stroke-width="1"/>
<line x1="398.8" y1="193.06" x2="386.5" y2="193.06" stroke="#000" stroke-width="1"/>
<line x1="70.2" y1="213.66" x2="83.8" y2="213.66" stroke="#000" stroke-width="1"/>
<line x1="398.8" y1="213.66" x2="385.2" y2="213.66" stroke="#000" stroke-width="1"/>
<line x1="70.2" y1="220.29" x2="82.5" y2="220.29" stroke="#000" stroke-width="1"/>
<line x1="398.8" y1="220.29" x2="386.5" y2="220.29" stroke="#000" stroke-width="1"/>
<line x1="70.2" y1="228.84" x2="82.5" y2="228.84" stroke="#000" stroke-width="1"/>
<line x1="398.8" y1="228.84" x2="386.5" y2="228.84" stroke="#000" stroke-width="1"/>
<line x1="70.2" y1="234.26" x2="76.6" y2="234.26" stroke="#000" stroke-width="1"/>
<line x1="398.8" y1="234.26" x2="392.4" y2="234.26" stroke="#000" stroke-width="1"/>
<line x1="70.2" y1="240.89" x2="82.5" y2="240.89" stroke="#000" stroke-width="1"/>
<line x1="398.8" y1="240.89" x2="386.5" y2="240.89" stroke="#000" stroke-width="1"/>
<line x1="70.2" y1="249.44" x2="76.6" y2="249.44" stroke="#000" stroke-width="1"/>
<line x1="398.8" y1="249.44" x2="392.4" y2="249.44" stroke="#000" stroke-width="1"/>
<line x1="70.2" y1="261.48" x2="82.5" y2="261.48" stroke="#000" stroke-width="1"/>
<line x1="398.8" y1="261.48" x2="386.5" y2="261.48" stroke="#000" stroke-width="1"/>
<line x1="70.2" y1="282.08" x2="83.8" y2="282.08" stroke="#000" stroke-width="1"/>
<line x1="398.8" y1="282.08" x2="385.2" y2="282.08" stroke="#000" stroke-width="1"/>
<line x1="70.2" y1="288.71" x2="82.5" y2="288.71" stroke="#000" stroke-width="1"/>
<line x1="398.8" y1="288.71" x2="386.5" y2="288.71" stroke="#000" stroke-width="1"/>
<line x1="70.2" y1="297.26" x2="82.5" y2="297.26" stroke="#000" stroke-width="1"/>
<line x1="398.8" y1="297.26" x2="386.5" y2="297.26" stroke="#000" stroke-width="1"/>
<line x1="70.2" y1="302.68" x2="76.6" y2="302.68" stroke="#000" stroke-width="1"/>
<line x1="398.8" y1="302.68" x2="392.4" y2="302.68" stroke="#000" stroke-width="1"/>
<line x1="70.2" y1="309.31" x2="82.5" y2="309.31" stroke="#000" stroke-width="1"/>
<line x1="398.8" y1="309.31" x2="386.5" y2="309.31" stroke="#000" stroke-width="1"/>
<line x1="70.2" y1="317.86" x2="76.6" y2="317.86" stroke="#000" stroke-width="1"/>
<line x1="398.8" y1="317.86" x2="392.4" y2="317.86" stroke="#000" stroke-width="1"/>
<line x1="92.12" y1="330.25" x2="92.12" y2="323.85" stroke="#000" stroke-width="1"/>
<line x1="92.12" y1="7.2" x2="92.12" y2="13.6" stroke="#000" stroke-width="1"/>
<line x1="108.41" y1="330.25" x2="108.41" y2="317.95" stroke="#000" stroke-width="1"/>
<line x1="108.41" y1="7.2" x2="108.41" y2="19.5" stroke="#000" stroke-width="1"/>
<line x1="121.72" y1="330.25" x2="121.72" y2="323.85" stroke="#000" stroke-width="1"/>
<line x1="121.72" y1="7.2" x2="121.72" y2="13.6" stroke="#000" stroke-width="1"/>
<line x1="132.97" y1="330.25" x2="132.97" y2="323.85" stroke="#000" stroke-width="1"/>
<line x1="132.97" y1="7.2" x2="132.97" y2="13.6" stroke="#000" stroke-width="1"/>
<line x1="142.71" y1="330.25" x2="142.71" y2="323.85" stroke="#000" stroke-width="1"/>
<line x1="142.71" y1="7.2" x2="142.71" y2="13.6" stroke="#000" stroke-width="1"/>
<line x1="151.31" y1="330.25" x2="151.31" y2="323.85" stroke="#000" stroke-width="1"/>
<line x1="151.31" y1="7.2" x2="151.31" y2="13.6" stroke="#000" stroke-width="1"/>
<line x1="159" y1="330.25" x2="159" y2="316.65" stroke="#000" stroke-width="1"/>
<line x1="159" y1="7.2" x2="159" y2="20.8" stroke="#000" stroke-width="1"/>
<line x1="209.59" y1="330.25" x2="209.59" y2="317.95" stroke="#000" stroke-width="1"/>
<line x1="209.59" y1="7.2" x2="209.59" y2="19.5" stroke="#000" stroke-width="1"/>
<line x1="239.18" y1="330.25" x2="239.18" y2="323.85" stroke="#000" stroke-width="1"/>
<line x1="239.18" y1="7.2" x2="239.18" y2="13.6" stroke="#000" stroke-width="1"/>
<line x1="260.18" y1="330.25" x2="260.18" y2="323.85" stroke="#000" stroke-width="1"/>
<line x1="260.18" y1="7.2" x2="260.18" y2="13.6" stroke="#000" stroke-width="1"/>
<line x1="276.47" y1="330.25" x2="276.47" y2="317.95" stroke="#000" stroke-width="1"/>
<line x1="276.47" y1="7.2" x2="276.47" y2="19.5" stroke="#000" stroke-width="1"/>
<line x1="289.78" y1="330.25" x2="289.78" y2="323.85" stroke="#000" stroke-width="1"/>
<line x1="289.78" y1="7.2" x2="289.78" y2="13.6" stroke="#000" stroke-width="1"/>
<line x1="301.03" y1="330.25" x2="301.03" y2="323.85" stroke="#000" stroke-width="1"/>
<line x1="301.03" y1="7.2" x2="301.03" y2="13.6" stroke="#000" stroke-width="1"/>
<line x1="310.77" y1="330.25" x2="310.77" y2="323.85" stroke="#000" stroke-width="1"/>
<line x1="310.77" y1="7.2" x2="310.77" y2="13.6" stroke="#000" stroke-width="1"/>
<line x1="319.37" y1="330.25" x2="319.37" y2="323.85" stroke="#000" stroke-width="1"/>
<line x1="319.37" y1="7.2" x2="319.37" y2="13.6" stroke="#000" stroke-width="1"/>
<line x1="327.06" y1="330.25" x2="327.06" y2="316.65" stroke="#000" stroke-width="1"/>
<line x1="327.06" y1="7.2" x2="327.06" y2="20.8" stroke="#000" stroke-width="1"/>
<line x1="377.65" y1="330.25" x2="377.65" y2="317.95" stroke="#000" stroke-width="1"/>
<line x1="377.65" y1="7.2" x2="377.65" y2="19.5" stroke="#000" stroke-width="1"/>
<text x="66.4" y="14.3" font-family='"Liberation Sans", sans-serif' font-size="17.4" font-weight="bold" text-anchor="end" fill="#000">10<tspan font-size="12.6" dy="-6.4">−1</tspan></text>
<text x="66.4" y="82.72" font-family='"Liberation Sans", sans-serif' font-size="17.4" font-weight="bold" text-anchor="end" fill="#000">10<tspan font-size="12.6" dy="-6.4">−2</tspan></text>
<text x="66.4" y="151.14" font-family='"Liberation Sans", sans-serif' font-size="17.4" font-weight="bold" text-anchor="end" fill="#000">10<tspan font-size="12.6" dy="-6.4">−3</tspan></text>
<text x="66.4" y="219.56" font-family='"Liberation Sans", sans-serif' font-size="17.4" font-weight="bold" text-anchor="end" fill="#000">10<tspan font-size="12.6" dy="-6.4">−4</tspan></text>
<text x="66.4" y="287.98" font-family='"Liberation Sans", sans-serif' font-size="17.4" font-weight="bold" text-anchor="end" fill="#000">10<tspan font-size="12.6" dy="-6.4">−5</tspan></text>
<text x="108.41" y="350.3" font-family='"Liberation Sans", sans-serif' font-size="16.6" fill="#000" text-anchor="middle" font-weight="bold">0.5</text>
<text x="159" y="350.3" font-family='"Liberation Sans", sans-serif' font-size="16.6" fill="#000" text-anchor="middle" font-weight="bold">1.0</text>
<text x="209.59" y="350.3" font-family='"Liberation Sans", sans-serif' font-size="16.6" fill="#000" text-anchor="middle" font-weight="bold">2.</text>
<text x="276.47" y="350.3" font-family='"Liberation Sans", sans-serif' font-size="16.6" fill="#000" text-anchor="middle" font-weight="bold">5.</text>
<text x="327.06" y="350.3" font-family='"Liberation Sans", sans-serif' font-size="16.6" fill="#000" text-anchor="middle" font-weight="bold">10.0</text>
<text x="377.65" y="350.3" font-family='"Liberation Sans", sans-serif' font-size="16.6" fill="#000" text-anchor="middle" font-weight="bold">20.</text>
<text x="234.2" y="388.3" font-family='"Liberation Sans", sans-serif' font-size="21" fill="#000" text-anchor="middle" font-weight="normal">r (Mpc/h)</text>
<text transform="translate(12.6,184.4) rotate(-90)" font-family='"Liberation Sans", sans-serif' font-size="17.8" text-anchor="start" fill="#000" textLength="29.9" lengthAdjust="spacing">ξ(<tspan font-size="20.2">r</tspan>)</text>
<text x="333.3" y="40.2" font-family='"Liberation Sans", sans-serif' font-size="17.1" fill="#000" text-anchor="middle" font-weight="normal">HnoAGN</text>
<text x="97.2" y="157" font-family='"Liberation Sans", sans-serif' font-size="17.1" fill="#00ff00" text-anchor="start" font-weight="normal">Hydro Flux (BOSS)</text>
<text x="97.2" y="200.5" font-family='"Liberation Sans", sans-serif' font-size="17.3" fill="#000" text-anchor="start" font-weight="normal">smoothing=0.5 Mpc/h</text>
<text x="97.2" y="231.5" font-family='"Liberation Sans", sans-serif' font-size="17.1" fill="#ff0000" text-anchor="start" font-weight="normal">LyMAS (ρ)</text>
<text x="97.2" y="260" font-family='"Liberation Sans", sans-serif' font-size="17.1" fill="#0000ff" text-anchor="start" font-weight="normal">LyMAS2 (ρ,σ)</text>
<text x="97.2" y="288.7" font-family='"Liberation Sans", sans-serif' font-size="17.1" fill="#00ffff" text-anchor="start" font-weight="normal">FGPA</text>
<rect x="80" y="651.96" width="315.8" height="53.4" fill="#cecece"/>
<rect x="80" y="665.31" width="315.8" height="26.7" fill="#9e9e9e"/>
<line x1="80" y1="678.66" x2="395.8" y2="678.66" stroke="#8d8d8d" stroke-width="0.6"/>
<g clip-path="url(#cb)">
<path d="M84.26 736.03 L84.36 734.81 L84.45 733.6 L84.55 732.38 L84.64 731.17 L84.73 729.95 L84.83 728.74 L84.92 727.53 L85.01 726.32 L85.11 725.11 L85.2 723.9 L85.3 722.7 L85.39 721.49 L85.48 720.29 L85.58 719.08 L85.67 717.88 L85.77 716.68 L85.87 715.48 L85.97 714.28 L86.07 713.08 L86.17 711.88 L86.27 710.68 L86.37 709.49 L86.48 708.29 L86.58 707.1 L86.69 705.9 L86.8 704.71 L86.91 703.51 L87.02 702.32 L87.14 701.13 L87.26 699.94 L87.37 698.74 L87.5 697.55 L87.62 696.36 L87.75 695.17 L87.88 693.98 L88.01 692.79 L88.14 691.61 L88.28 690.42 L88.42 689.23 L88.57 688.04 L88.72 686.85 L88.87 685.66 L89.02 684.48 L89.18 683.29 L89.34 682.1 L89.51 680.91 L89.67 679.73 L89.85 678.54 L90.02 677.35 L90.21 676.17 L90.39 674.98 L90.58 673.79 L90.77 672.6 L90.97 671.41 L91.18 670.23 L91.38 669.04 L91.6 667.85 L91.81 666.66 L92.04 665.47 L92.27 664.28 L92.5 663.09 L92.74 661.91 L92.99 660.72 L93.24 659.53 L93.5 658.34 L93.77 657.15 L94.05 655.97 L94.33 654.78 L94.62 653.6 L94.92 652.41 L95.23 651.23 L95.55 650.05 L95.88 648.87 L96.22 647.69 L96.56 646.51 L96.92 645.33 L97.29 644.16 L97.67 642.98 L98.06 641.81 L98.47 640.64 L98.88 639.47 L99.31 638.31 L99.75 637.15 L100.22 636.01 L100.72 634.9 L101.27 633.84 L101.86 632.83 L102.52 631.89 L103.24 631.02 L104.03 630.23 L104.88 629.52 L105.78 628.89 L106.73 628.32 L107.73 627.83 L108.77 627.4 L109.84 627.04 L110.94 626.74 L112.07 626.5 L113.22 626.32 L114.38 626.2 L115.56 626.12 L116.74 626.1 L117.92 626.13 L119.12 626.19 L120.31 626.3 L121.52 626.43 L122.72 626.59 L123.93 626.78 L125.15 626.99 L126.36 627.2 L127.57 627.43 L128.79 627.67 L130 627.91 L131.22 628.14 L132.43 628.37 L133.64 628.6 L134.85 628.82 L136.06 629.04 L137.27 629.26 L138.47 629.47 L139.68 629.69 L140.88 629.89 L142.09 630.1 L143.29 630.3 L144.49 630.49 L145.69 630.68 L146.9 630.87 L148.1 631.06 L149.29 631.24 L150.49 631.41 L151.69 631.58 L152.89 631.75 L154.08 631.92 L155.28 632.07 L156.48 632.23 L157.67 632.38 L158.87 632.52 L160.06 632.66 L161.25 632.8 L162.45 632.93 L163.64 633.05 L164.83 633.17 L166.03 633.29 L167.22 633.4 L168.41 633.5 L169.6 633.6 L170.8 633.69 L171.99 633.78 L173.18 633.86 L174.37 633.94 L175.56 634.01 L176.76 634.08 L177.95 634.13 L179.14 634.19 L180.33 634.23 L181.52 634.28 L182.72 634.31 L183.91 634.34 L185.1 634.36 L186.3 634.38 L187.49 634.38 L188.69 634.39 L189.88 634.38 L191.08 634.37 L192.27 634.35 L193.47 634.33 L194.67 634.3 L195.86 634.26 L197.06 634.21 L198.26 634.16 L199.46 634.1 L200.66 634.03 L201.86 633.96 L203.06 633.87 L204.26 633.79 L205.47 633.69 L206.67 633.59 L207.87 633.48 L209.07 633.36 L210.27 633.23 L211.48 633.1 L212.68 632.96 L213.88 632.82 L215.08 632.67 L216.28 632.51 L217.48 632.34 L218.68 632.17 L219.88 631.99 L221.08 631.81 L222.28 631.62 L223.47 631.42 L224.67 631.21 L225.86 631 L227.06 630.79 L228.25 630.56 L229.44 630.33 L230.63 630.1 L231.82 629.85 L233.01 629.6 L234.19 629.35 L235.37 629.09 L236.56 628.82 L237.74 628.54 L238.91 628.26 L240.09 627.98 L241.26 627.69 L242.44 627.39 L243.61 627.08 L244.77 626.77 L245.94 626.46 L247.1 626.14 L248.26 625.81 L249.42 625.48 L250.57 625.14 L251.72 624.79 L252.87 624.43 L254.01 624.06 L255.14 623.68 L256.27 623.29 L257.4 622.88 L258.51 622.47 L259.62 622.04 L260.73 621.59 L261.82 621.13 L262.91 620.65 L263.98 620.15 L265.05 619.64 L266.11 619.1 L267.16 618.55 L268.2 617.97 L269.23 617.37 L270.24 616.75 L271.25 616.11 L272.24 615.45 L273.23 614.77 L274.21 614.07 L275.18 613.36 L276.14 612.63 L277.09 611.89 L278.04 611.14 L278.99 610.38 L279.93 609.61 L280.87 608.83 L281.8 608.04 L282.73 607.25 L283.66 606.46 L284.59 605.66 L285.52 604.86 L286.45 604.06 L287.38 603.26 L288.31 602.47 L289.24 601.67 L290.18 600.89 L291.12 600.1 L292.06 599.33 L293.01 598.56 L293.96 597.79 L294.9 597.03 L295.85 596.27 L296.79 595.51 L297.73 594.74 L298.67 593.98 L299.6 593.21 L300.52 592.44 L301.43 591.66 L302.34 590.87 L303.23 590.08 L304.12 589.28 L304.99 588.46 L305.85 587.64 L306.69 586.8 L307.52 585.95 L308.33 585.09 L309.13 584.2 L309.9 583.3 L310.66 582.39 L311.4 581.45 L312.12 580.5 L312.82 579.54 L313.51 578.56 L314.19 577.57 L314.85 576.57 L315.5 575.55 L316.13 574.53 L316.76 573.5 L317.38 572.46 L317.99 571.42 L318.59 570.37 L319.19 569.31 L319.78 568.26 L320.37 567.2 L320.95 566.13 L321.53 565.07 L322.1 564.01 L322.67 562.94 L323.24 561.87 L323.81 560.8 L324.37 559.73 L324.92 558.65 L325.47 557.58 L326.02 556.5 L326.57 555.42 L327.11 554.34 L327.65 553.26 L328.18 552.17 L328.71 551.09 L329.23 550 L329.76 548.91 L330.28 547.82 L330.79 546.73 L331.3 545.63 L331.81 544.54 L332.31 543.44 L332.81 542.34 L333.31 541.24 L333.8 540.14 L334.29 539.04 L334.77 537.93 L335.25 536.83 L335.73 535.72 L336.2 534.61 L336.67 533.5 L337.14 532.39 L337.6 531.27 L338.06 530.16 L338.51 529.04 L338.96 527.93 L339.41 526.81 L339.85 525.69 L340.29 524.57 L340.73 523.44 L341.16 522.32 L341.59 521.19 L342.01 520.06 L342.43 518.94 L342.85 517.81 L343.26 516.68 L343.67 515.54 L344.08 514.41 L344.48 513.27 L344.88 512.14 L345.27 511 L345.66 509.86 L346.05 508.72 L346.43 507.58 L346.81 506.44 L347.19 505.3 L347.56 504.15 L347.93 503.01 L348.29 501.86 L348.65 500.71 L349.01 499.56 L349.36 498.41 L349.71 497.26 L350.06 496.11 L350.4 494.95 L350.74 493.8 L351.07 492.64 L351.4 491.49 L351.73 490.33 L352.05 489.17 L352.38 488.01 L352.69 486.85 L353 485.69 L353.31 484.52 L353.62 483.36 L353.92 482.19 L354.22 481.03 L354.52 479.86 L354.81 478.69 L355.1 477.52 L355.38 476.35 L355.66 475.18 L355.94 474.01 L356.22 472.84 L356.49 471.67 L356.76 470.49 L357.02 469.32 L357.28 468.14 L357.54 466.97 L357.79 465.79 L358.05 464.61 L358.29 463.43 L358.54 462.25 L358.78 461.07 L359.02 459.89 L359.25 458.71 L359.48 457.53 L359.71 456.34 L359.93 455.16 L360.16 453.98 L360.37 452.79 L360.59 451.6 L360.8 450.42 L361.01 449.23 L361.22 448.04 L361.42 446.85 L361.62 445.67 L361.81 444.48 L362.01 443.29 L362.2 442.1 L362.39 440.9 L362.57 439.71 L362.75 438.52 L362.93 437.33 L363.1 436.13 L363.28 434.94 L363.44 433.75 L363.61 432.55 L363.77 431.36 L363.93 430.16 L364.09 428.97 L364.24 427.77 L364.4 426.57 L364.54 425.38 L364.69 424.18 L364.83 422.98 L364.97 421.78 L365.11 420.58 L365.24 419.38 L365.38 418.19 L365.5 416.99 L365.63 415.79 L365.75 414.59 L365.87 413.39 L365.99 412.18 L366.11 410.98 L366.22 409.78 L366.33 408.58 L366.43 407.38 L366.54 406.18 L366.64 404.98" fill="none" stroke="#ff0000" stroke-width="2.1" stroke-linejoin="round"/>
<path d="M82.58 736.16 L82.59 734.89 L82.61 733.62 L82.63 732.35 L82.65 731.09 L82.68 729.84 L82.72 728.59 L82.76 727.35 L82.8 726.11 L82.85 724.88 L82.9 723.65 L82.95 722.43 L83.01 721.21 L83.08 720 L83.14 718.79 L83.21 717.58 L83.29 716.38 L83.36 715.18 L83.45 713.99 L83.53 712.8 L83.62 711.61 L83.71 710.42 L83.8 709.24 L83.9 708.06 L84 706.88 L84.1 705.7 L84.21 704.53 L84.32 703.36 L84.43 702.19 L84.55 701.02 L84.67 699.85 L84.79 698.68 L84.91 697.52 L85.04 696.35 L85.17 695.19 L85.3 694.02 L85.43 692.86 L85.56 691.69 L85.7 690.53 L85.84 689.36 L85.98 688.2 L86.13 687.03 L86.27 685.86 L86.42 684.69 L86.57 683.52 L86.72 682.35 L86.87 681.18 L87.03 680 L87.19 678.82 L87.34 677.64 L87.5 676.46 L87.66 675.28 L87.82 674.09 L87.99 672.9 L88.15 671.7 L88.32 670.5 L88.48 669.3 L88.65 668.1 L88.82 666.89 L88.99 665.68 L89.16 664.46 L89.33 663.24 L89.5 662.01 L89.67 660.78 L89.84 659.55 L90.02 658.3 L90.19 657.06 L90.36 655.8 L90.54 654.55 L90.71 653.28 L90.89 652.01 L91.06 650.74 L91.23 649.45 L91.41 648.16 L91.59 646.88 L91.78 645.59 L91.98 644.31 L92.2 643.05 L92.44 641.81 L92.71 640.59 L93.01 639.4 L93.34 638.24 L93.72 637.13 L94.13 636.05 L94.59 635.03 L95.11 634.06 L95.68 633.15 L96.31 632.3 L97.01 631.52 L97.77 630.82 L98.61 630.19 L99.52 629.65 L100.51 629.2 L101.56 628.87 L102.65 628.67 L103.74 628.64 L104.83 628.79 L105.88 629.15 L106.87 629.75 L107.82 630.54 L108.73 631.46 L109.63 632.44 L110.55 633.39 L111.48 634.29 L112.44 635.15 L113.42 635.96 L114.41 636.73 L115.42 637.47 L116.44 638.16 L117.48 638.82 L118.53 639.46 L119.59 640.06 L120.66 640.63 L121.74 641.18 L122.83 641.72 L123.92 642.23 L125.02 642.72 L126.12 643.2 L127.23 643.67 L128.34 644.12 L129.46 644.55 L130.57 644.98 L131.7 645.38 L132.82 645.78 L133.95 646.16 L135.09 646.53 L136.22 646.89 L137.37 647.23 L138.51 647.56 L139.66 647.88 L140.81 648.19 L141.96 648.48 L143.12 648.77 L144.28 649.04 L145.44 649.3 L146.6 649.55 L147.77 649.79 L148.94 650.02 L150.12 650.24 L151.29 650.45 L152.47 650.65 L153.65 650.84 L154.83 651.02 L156.02 651.19 L157.21 651.35 L158.4 651.51 L159.59 651.65 L160.78 651.79 L161.98 651.92 L163.17 652.04 L164.37 652.16 L165.57 652.26 L166.77 652.36 L167.98 652.45 L169.18 652.54 L170.39 652.62 L171.59 652.69 L172.8 652.76 L174.01 652.82 L175.22 652.88 L176.43 652.93 L177.65 652.97 L178.86 653.01 L180.07 653.05 L181.29 653.08 L182.5 653.11 L183.72 653.13 L184.93 653.15 L186.15 653.16 L187.37 653.18 L188.58 653.18 L189.8 653.19 L191.02 653.19 L192.23 653.19 L193.45 653.18 L194.66 653.16 L195.88 653.15 L197.09 653.12 L198.31 653.09 L199.52 653.06 L200.73 653.02 L201.95 652.97 L203.16 652.91 L204.36 652.85 L205.57 652.79 L206.78 652.71 L207.98 652.63 L209.19 652.54 L210.39 652.44 L211.59 652.33 L212.78 652.22 L213.98 652.09 L215.17 651.96 L216.36 651.82 L217.55 651.67 L218.74 651.51 L219.92 651.34 L221.1 651.16 L222.28 650.97 L223.45 650.77 L224.63 650.55 L225.79 650.33 L226.96 650.1 L228.13 649.86 L229.29 649.61 L230.45 649.35 L231.61 649.08 L232.76 648.8 L233.92 648.52 L235.07 648.23 L236.22 647.93 L237.37 647.62 L238.52 647.31 L239.67 646.99 L240.82 646.66 L241.96 646.33 L243.11 645.99 L244.25 645.65 L245.4 645.3 L246.54 644.95 L247.69 644.59 L248.83 644.23 L249.98 643.86 L251.12 643.49 L252.27 643.11 L253.41 642.73 L254.55 642.35 L255.7 641.96 L256.84 641.56 L257.98 641.16 L259.12 640.76 L260.26 640.35 L261.39 639.93 L262.53 639.51 L263.67 639.08 L264.8 638.65 L265.93 638.22 L267.06 637.78 L268.19 637.33 L269.31 636.88 L270.44 636.42 L271.56 635.96 L272.68 635.49 L273.79 635.01 L274.91 634.53 L276.02 634.05 L277.13 633.55 L278.23 633.06 L279.34 632.55 L280.44 632.04 L281.53 631.52 L282.63 631 L283.72 630.47 L284.8 629.94 L285.89 629.4 L286.96 628.85 L288.04 628.29 L289.11 627.73 L290.18 627.17 L291.24 626.59 L292.3 626.01 L293.35 625.42 L294.4 624.83 L295.45 624.23 L296.49 623.62 L297.52 623 L298.56 622.38 L299.58 621.75 L300.6 621.12 L301.62 620.47 L302.63 619.82 L303.63 619.16 L304.63 618.5 L305.62 617.82 L306.61 617.14 L307.59 616.46 L308.57 615.76 L309.54 615.06 L310.5 614.34 L311.46 613.63 L312.41 612.9 L313.35 612.16 L314.29 611.42 L315.22 610.67 L316.14 609.91 L317.06 609.14 L317.96 608.37 L318.87 607.59 L319.76 606.79 L320.65 605.99 L321.53 605.18 L322.4 604.37 L323.26 603.54 L324.12 602.71 L324.97 601.86 L325.81 601.01 L326.64 600.15 L327.46 599.28 L328.28 598.4 L329.08 597.52 L329.88 596.62 L330.67 595.71 L331.45 594.8 L332.22 593.88 L332.99 592.94 L333.74 592 L334.48 591.05 L335.22 590.09 L335.94 589.13 L336.65 588.15 L337.36 587.17 L338.05 586.18 L338.73 585.18 L339.4 584.18 L340.07 583.17 L340.72 582.15 L341.35 581.12 L341.98 580.09 L342.6 579.05 L343.2 578 L343.8 576.95 L344.38 575.89 L344.95 574.83 L345.5 573.76 L346.05 572.68 L346.58 571.6 L347.09 570.52 L347.6 569.42 L348.09 568.33 L348.57 567.23 L349.04 566.12 L349.5 565.01 L349.94 563.89 L350.37 562.78 L350.79 561.65 L351.21 560.52 L351.61 559.39 L352 558.26 L352.38 557.12 L352.75 555.98 L353.11 554.83 L353.46 553.68 L353.81 552.53 L354.14 551.37 L354.47 550.21 L354.79 549.05 L355.1 547.89 L355.4 546.72 L355.7 545.55 L355.99 544.38 L356.28 543.21 L356.56 542.03 L356.83 540.86 L357.1 539.68 L357.36 538.5 L357.61 537.32 L357.87 536.13 L358.11 534.95 L358.36 533.76 L358.6 532.58 L358.83 531.39 L359.07 530.2 L359.3 529.01 L359.52 527.82 L359.75 526.63 L359.97 525.44 L360.19 524.25 L360.41 523.06 L360.63 521.87 L360.85 520.68 L361.06 519.49 L361.28 518.3 L361.49 517.11 L361.71 515.93 L361.92 514.74 L362.13 513.55 L362.34 512.36 L362.54 511.17 L362.75 509.98 L362.96 508.79 L363.16 507.61 L363.36 506.42 L363.56 505.23 L363.76 504.04 L363.96 502.85 L364.16 501.67 L364.36 500.48 L364.55 499.29 L364.75 498.1 L364.94 496.92 L365.14 495.73 L365.33 494.54 L365.52 493.35 L365.71 492.16 L365.89 490.98 L366.08 489.79 L366.26 488.6 L366.45 487.41 L366.63 486.23 L366.81 485.04 L366.99 483.85 L367.17 482.66 L367.35 481.47 L367.53 480.29 L367.71 479.1 L367.88 477.91 L368.05 476.72 L368.23 475.53 L368.4 474.34 L368.57 473.15 L368.74 471.97 L368.91 470.78 L369.07 469.59 L369.24 468.4 L369.4 467.21 L369.57 466.02 L369.73 464.83 L369.89 463.64 L370.05 462.45 L370.21 461.26 L370.37 460.07 L370.52 458.88 L370.68 457.69 L370.83 456.49 L370.99 455.3 L371.14 454.11 L371.29 452.92 L371.44 451.73 L371.59 450.54 L371.74 449.34 L371.88 448.15 L372.03 446.96 L372.17 445.76 L372.32 444.57 L372.46 443.38 L372.6 442.18 L372.74 440.99 L372.88 439.79 L373.02 438.6 L373.15 437.4 L373.29 436.2 L373.42 435.01 L373.56 433.81 L373.69 432.61 L373.82 431.42 L373.95 430.22 L374.08 429.02 L374.21 427.82 L374.34 426.62 L374.46 425.42 L374.59 424.22 L374.71 423.02 L374.83 421.82 L374.95 420.62 L375.08 419.42 L375.19 418.22 L375.31 417.02 L375.43 415.81 L375.55 414.61 L375.66 413.41 L375.78 412.2 L375.89 411 L376 409.79 L376.11 408.58 L376.22 407.38 L376.33 406.17 L376.44 404.96" fill="none" stroke="#ff00ff" stroke-width="1.9" stroke-linejoin="round"/>
<path d="M82.57 736.02 L82.59 734.81 L82.61 733.59 L82.63 732.38 L82.66 731.17 L82.69 729.96 L82.72 728.75 L82.76 727.54 L82.81 726.33 L82.86 725.12 L82.91 723.91 L82.96 722.71 L83.02 721.5 L83.09 720.3 L83.15 719.09 L83.22 717.89 L83.3 716.69 L83.38 715.48 L83.46 714.28 L83.54 713.08 L83.63 711.88 L83.72 710.68 L83.81 709.48 L83.91 708.28 L84.01 707.09 L84.12 705.89 L84.22 704.69 L84.33 703.49 L84.44 702.3 L84.56 701.1 L84.68 699.91 L84.8 698.71 L84.92 697.52 L85.04 696.32 L85.17 695.13 L85.3 693.93 L85.43 692.74 L85.57 691.54 L85.71 690.35 L85.84 689.16 L85.99 687.96 L86.13 686.77 L86.27 685.58 L86.42 684.38 L86.57 683.19 L86.72 682 L86.87 680.8 L87.03 679.61 L87.18 678.42 L87.34 677.22 L87.5 676.03 L87.66 674.84 L87.82 673.64 L87.98 672.45 L88.15 671.26 L88.31 670.06 L88.48 668.87 L88.64 667.67 L88.81 666.48 L88.98 665.28 L89.15 664.09 L89.32 662.89 L89.49 661.69 L89.66 660.5 L89.84 659.3 L90.01 658.1 L90.18 656.9 L90.36 655.7 L90.53 654.51 L90.71 653.31 L90.88 652.11 L91.06 650.9 L91.23 649.7 L91.41 648.5 L91.59 647.3 L91.79 646.1 L92 644.91 L92.24 643.72 L92.5 642.54 L92.79 641.37 L93.13 640.21 L93.51 639.07 L93.94 637.93 L94.42 636.82 L94.96 635.72 L95.57 634.64 L96.25 633.58 L97.01 632.54 L97.83 631.57 L98.71 630.8 L99.61 630.38 L100.52 630.3 L101.45 630.51 L102.38 630.97 L103.31 631.61 L104.24 632.38 L105.17 633.23 L106.09 634.11 L107 635 L107.91 635.9 L108.81 636.79 L109.71 637.69 L110.61 638.58 L111.51 639.46 L112.41 640.33 L113.31 641.19 L114.23 642.03 L115.15 642.84 L116.07 643.63 L117.01 644.4 L117.97 645.13 L118.93 645.82 L119.91 646.48 L120.9 647.11 L121.91 647.71 L122.92 648.27 L123.95 648.8 L124.99 649.31 L126.04 649.78 L127.11 650.22 L128.18 650.64 L129.27 651.03 L130.36 651.4 L131.46 651.74 L132.58 652.05 L133.7 652.34 L134.83 652.61 L135.97 652.85 L137.12 653.08 L138.27 653.28 L139.43 653.46 L140.6 653.63 L141.78 653.77 L142.96 653.9 L144.15 654.01 L145.34 654.1 L146.54 654.18 L147.75 654.25 L148.96 654.3 L150.17 654.34 L151.39 654.36 L152.61 654.38 L153.83 654.38 L155.06 654.38 L156.29 654.36 L157.52 654.34 L158.75 654.31 L159.99 654.28 L161.22 654.23 L162.46 654.18 L163.7 654.13 L164.94 654.08 L166.18 654.02 L167.41 653.96 L168.65 653.9 L169.89 653.83 L171.12 653.77 L172.35 653.71 L173.58 653.65 L174.81 653.59 L176.04 653.53 L177.27 653.47 L178.49 653.4 L179.72 653.34 L180.94 653.28 L182.16 653.21 L183.38 653.15 L184.6 653.08 L185.82 653.01 L187.03 652.94 L188.25 652.87 L189.46 652.8 L190.67 652.72 L191.88 652.65 L193.09 652.57 L194.3 652.49 L195.5 652.4 L196.71 652.32 L197.91 652.23 L199.11 652.14 L200.31 652.04 L201.51 651.94 L202.71 651.84 L203.9 651.74 L205.1 651.63 L206.29 651.52 L207.48 651.4 L208.67 651.28 L209.86 651.16 L211.05 651.03 L212.24 650.89 L213.42 650.76 L214.61 650.61 L215.79 650.47 L216.97 650.31 L218.15 650.16 L219.33 649.99 L220.51 649.82 L221.68 649.65 L222.86 649.47 L224.03 649.29 L225.2 649.09 L226.38 648.9 L227.55 648.69 L228.71 648.48 L229.88 648.26 L231.05 648.04 L232.21 647.81 L233.38 647.57 L234.54 647.32 L235.7 647.07 L236.86 646.81 L238.02 646.54 L239.17 646.27 L240.33 645.98 L241.49 645.69 L242.64 645.39 L243.79 645.09 L244.94 644.77 L246.09 644.45 L247.24 644.12 L248.39 643.78 L249.53 643.43 L250.68 643.08 L251.82 642.72 L252.96 642.35 L254.1 641.97 L255.24 641.59 L256.37 641.2 L257.51 640.8 L258.64 640.4 L259.77 639.99 L260.9 639.57 L262.03 639.14 L263.15 638.71 L264.28 638.27 L265.4 637.83 L266.52 637.37 L267.64 636.91 L268.75 636.45 L269.87 635.97 L270.98 635.49 L272.09 635.01 L273.19 634.52 L274.3 634.02 L275.4 633.51 L276.51 633 L277.6 632.48 L278.7 631.96 L279.8 631.43 L280.89 630.89 L281.98 630.35 L283.07 629.81 L284.15 629.25 L285.23 628.69 L286.31 628.13 L287.39 627.56 L288.47 626.98 L289.54 626.4 L290.61 625.81 L291.68 625.22 L292.74 624.62 L293.8 624.02 L294.86 623.41 L295.92 622.79 L296.97 622.17 L298.01 621.54 L299.06 620.91 L300.1 620.27 L301.13 619.62 L302.16 618.97 L303.18 618.31 L304.2 617.65 L305.22 616.98 L306.23 616.3 L307.23 615.61 L308.23 614.92 L309.22 614.22 L310.2 613.51 L311.18 612.8 L312.15 612.08 L313.12 611.35 L314.07 610.62 L315.02 609.88 L315.96 609.13 L316.9 608.37 L317.82 607.61 L318.74 606.83 L319.65 606.05 L320.55 605.26 L321.44 604.47 L322.33 603.66 L323.2 602.85 L324.06 602.03 L324.92 601.2 L325.76 600.36 L326.6 599.51 L327.42 598.66 L328.24 597.8 L329.04 596.92 L329.83 596.04 L330.61 595.15 L331.38 594.25 L332.14 593.34 L332.88 592.42 L333.62 591.5 L334.34 590.56 L335.06 589.62 L335.76 588.67 L336.45 587.71 L337.13 586.74 L337.8 585.76 L338.46 584.78 L339.11 583.79 L339.75 582.79 L340.38 581.78 L341 580.77 L341.61 579.75 L342.21 578.72 L342.8 577.69 L343.38 576.65 L343.95 575.6 L344.51 574.55 L345.07 573.49 L345.61 572.42 L346.15 571.35 L346.67 570.28 L347.19 569.19 L347.7 568.1 L348.2 567.01 L348.69 565.91 L349.18 564.81 L349.65 563.7 L350.12 562.59 L350.58 561.47 L351.04 560.35 L351.48 559.22 L351.92 558.09 L352.35 556.95 L352.77 555.82 L353.19 554.67 L353.6 553.53 L354 552.38 L354.4 551.23 L354.78 550.07 L355.17 548.91 L355.54 547.75 L355.91 546.59 L356.27 545.42 L356.63 544.25 L356.98 543.08 L357.33 541.91 L357.67 540.73 L358 539.55 L358.33 538.37 L358.65 537.19 L358.97 536.01 L359.28 534.83 L359.59 533.64 L359.89 532.46 L360.19 531.27 L360.48 530.09 L360.77 528.9 L361.06 527.71 L361.34 526.52 L361.61 525.34 L361.88 524.15 L362.15 522.96 L362.42 521.77 L362.68 520.59 L362.93 519.4 L363.18 518.21 L363.43 517.03 L363.68 515.84 L363.92 514.66 L364.16 513.47 L364.39 512.28 L364.63 511.1 L364.85 509.92 L365.08 508.73 L365.3 507.55 L365.52 506.36 L365.74 505.18 L365.95 504 L366.16 502.81 L366.37 501.63 L366.57 500.45 L366.77 499.26 L366.97 498.08 L367.17 496.9 L367.36 495.71 L367.55 494.53 L367.74 493.35 L367.92 492.16 L368.11 490.98 L368.29 489.8 L368.46 488.62 L368.64 487.43 L368.81 486.25 L368.99 485.07 L369.16 483.88 L369.32 482.7 L369.49 481.52 L369.65 480.33 L369.82 479.15 L369.98 477.97 L370.13 476.78 L370.29 475.6 L370.45 474.41 L370.6 473.23 L370.75 472.04 L370.9 470.86 L371.05 469.67 L371.2 468.49 L371.34 467.3 L371.49 466.12 L371.63 464.93 L371.78 463.74 L371.92 462.55 L372.06 461.37 L372.2 460.18 L372.34 458.99 L372.47 457.8 L372.61 456.61 L372.75 455.42 L372.88 454.23 L373.02 453.04 L373.15 451.85 L373.28 450.66 L373.42 449.47 L373.55 448.28 L373.68 447.09 L373.81 445.89 L373.95 444.7 L374.08 443.51 L374.21 442.31 L374.34 441.12 L374.47 439.92 L374.6 438.72 L374.73 437.53 L374.86 436.33 L375 435.13 L375.13 433.93 L375.26 432.73 L375.39 431.53 L375.52 430.33 L375.66 429.13 L375.79 427.92 L375.92 426.72 L376.06 425.52 L376.2 424.31 L376.33 423.11 L376.47 421.9 L376.61 420.69 L376.74 419.48 L376.88 418.27 L377.02 417.06 L377.17 415.85 L377.31 414.64 L377.45 413.43 L377.6 412.22 L377.74 411 L377.89 409.79 L378.04 408.57 L378.19 407.35 L378.34 406.14 L378.5 404.92" fill="none" stroke="#00ffff" stroke-width="2" stroke-linejoin="round"/>
<path d="M82.54 735.99 L82.57 734.8 L82.6 733.6 L82.63 732.4 L82.67 731.2 L82.71 730 L82.76 728.8 L82.81 727.6 L82.86 726.4 L82.91 725.19 L82.97 723.99 L83.03 722.79 L83.1 721.59 L83.16 720.39 L83.23 719.18 L83.3 717.98 L83.38 716.78 L83.46 715.57 L83.54 714.37 L83.62 713.16 L83.71 711.96 L83.8 710.76 L83.89 709.55 L83.98 708.35 L84.08 707.15 L84.18 705.94 L84.28 704.74 L84.38 703.54 L84.49 702.33 L84.6 701.13 L84.71 699.93 L84.82 698.73 L84.94 697.52 L85.06 696.32 L85.18 695.12 L85.3 693.92 L85.43 692.72 L85.56 691.52 L85.69 690.32 L85.82 689.12 L85.95 687.92 L86.09 686.72 L86.22 685.53 L86.36 684.33 L86.51 683.13 L86.65 681.94 L86.8 680.74 L86.94 679.55 L87.09 678.36 L87.24 677.17 L87.4 675.97 L87.55 674.78 L87.71 673.59 L87.87 672.4 L88.02 671.22 L88.19 670.03 L88.35 668.84 L88.51 667.66 L88.68 666.48 L88.85 665.29 L89.01 664.11 L89.19 662.93 L89.36 661.75 L89.53 660.57 L89.71 659.39 L89.9 658.21 L90.09 657.03 L90.28 655.85 L90.48 654.67 L90.68 653.48 L90.9 652.29 L91.12 651.1 L91.34 649.91 L91.58 648.72 L91.83 647.52 L92.08 646.32 L92.35 645.11 L92.62 643.9 L92.91 642.69 L93.21 641.47 L93.52 640.24 L93.84 639.01 L94.18 637.78 L94.55 636.56 L94.96 635.43 L95.47 634.46 L96.08 633.7 L96.84 633.23 L97.75 633.09 L98.75 633.24 L99.81 633.63 L100.87 634.23 L101.92 634.97 L102.93 635.82 L103.87 636.72 L104.76 637.66 L105.61 638.63 L106.42 639.62 L107.19 640.62 L107.95 641.63 L108.7 642.63 L109.44 643.62 L110.2 644.59 L110.96 645.52 L111.76 646.42 L112.58 647.26 L113.44 648.06 L114.33 648.82 L115.24 649.52 L116.18 650.19 L117.15 650.81 L118.15 651.39 L119.17 651.93 L120.21 652.44 L121.27 652.9 L122.35 653.33 L123.45 653.72 L124.57 654.08 L125.71 654.4 L126.86 654.7 L128.03 654.96 L129.2 655.2 L130.39 655.4 L131.59 655.58 L132.8 655.73 L134.02 655.86 L135.24 655.96 L136.47 656.05 L137.7 656.11 L138.93 656.15 L140.17 656.17 L141.4 656.18 L142.64 656.16 L143.87 656.14 L145.1 656.1 L146.33 656.04 L147.55 655.98 L148.76 655.9 L149.98 655.81 L151.18 655.7 L152.39 655.59 L153.59 655.46 L154.79 655.33 L155.98 655.18 L157.17 655.02 L158.36 654.85 L159.55 654.68 L160.73 654.49 L161.91 654.29 L163.09 654.09 L164.26 653.88 L165.43 653.66 L166.6 653.43 L167.77 653.19 L168.94 652.95 L170.1 652.7 L171.27 652.44 L172.43 652.17 L173.59 651.9 L174.75 651.63 L175.91 651.35 L177.06 651.06 L178.22 650.77 L179.38 650.47 L180.53 650.18 L181.69 649.87 L182.84 649.56 L184 649.25 L185.15 648.94 L186.3 648.62 L187.46 648.3 L188.61 647.98 L189.77 647.66 L190.93 647.34 L192.08 647.01 L193.24 646.69 L194.4 646.36 L195.56 646.03 L196.72 645.7 L197.89 645.38 L199.05 645.05 L200.22 644.73 L201.39 644.4 L202.56 644.07 L203.73 643.75 L204.9 643.42 L206.07 643.09 L207.24 642.76 L208.4 642.43 L209.57 642.09 L210.74 641.75 L211.91 641.41 L213.08 641.07 L214.24 640.72 L215.4 640.37 L216.57 640.01 L217.72 639.65 L218.88 639.28 L220.03 638.91 L221.19 638.53 L222.33 638.15 L223.48 637.76 L224.62 637.36 L225.76 636.95 L226.89 636.54 L228.02 636.12 L229.14 635.69 L230.26 635.25 L231.37 634.81 L232.48 634.35 L233.58 633.88 L234.68 633.41 L235.77 632.92 L236.86 632.42 L237.94 631.92 L239.01 631.4 L240.08 630.88 L241.14 630.34 L242.2 629.8 L243.25 629.24 L244.3 628.68 L245.34 628.11 L246.38 627.53 L247.42 626.94 L248.45 626.35 L249.47 625.74 L250.49 625.13 L251.51 624.51 L252.53 623.89 L253.54 623.25 L254.54 622.61 L255.55 621.96 L256.55 621.31 L257.54 620.64 L258.53 619.97 L259.52 619.3 L260.5 618.61 L261.48 617.92 L262.46 617.23 L263.43 616.52 L264.4 615.81 L265.36 615.09 L266.32 614.37 L267.28 613.64 L268.23 612.9 L269.17 612.16 L270.12 611.41 L271.05 610.65 L271.99 609.89 L272.92 609.12 L273.84 608.35 L274.76 607.57 L275.68 606.78 L276.59 605.99 L277.49 605.19 L278.4 604.38 L279.29 603.57 L280.19 602.76 L281.08 601.94 L281.96 601.11 L282.84 600.28 L283.71 599.44 L284.58 598.6 L285.45 597.75 L286.31 596.89 L287.16 596.03 L288.01 595.17 L288.86 594.3 L289.69 593.43 L290.53 592.55 L291.36 591.66 L292.18 590.77 L293 589.88 L293.82 588.98 L294.63 588.08 L295.43 587.17 L296.23 586.26 L297.02 585.34 L297.81 584.42 L298.59 583.49 L299.37 582.56 L300.14 581.63 L300.91 580.69 L301.67 579.74 L302.42 578.8 L303.17 577.85 L303.92 576.89 L304.66 575.93 L305.39 574.97 L306.12 574 L306.84 573.03 L307.56 572.06 L308.27 571.08 L308.97 570.1 L309.67 569.11 L310.36 568.12 L311.05 567.13 L311.73 566.14 L312.4 565.14 L313.07 564.14 L313.73 563.13 L314.39 562.12 L315.04 561.11 L315.69 560.1 L316.33 559.08 L316.96 558.06 L317.59 557.04 L318.21 556.01 L318.83 554.98 L319.44 553.95 L320.05 552.91 L320.65 551.87 L321.24 550.83 L321.83 549.79 L322.41 548.74 L322.99 547.69 L323.56 546.64 L324.13 545.58 L324.69 544.53 L325.25 543.47 L325.8 542.4 L326.35 541.34 L326.89 540.27 L327.43 539.2 L327.96 538.12 L328.48 537.05 L329.01 535.97 L329.52 534.89 L330.03 533.8 L330.54 532.72 L331.04 531.63 L331.54 530.54 L332.03 529.45 L332.51 528.35 L333 527.25 L333.47 526.15 L333.95 525.05 L334.41 523.95 L334.88 522.84 L335.34 521.73 L335.79 520.62 L336.24 519.51 L336.68 518.4 L337.13 517.28 L337.56 516.16 L337.99 515.04 L338.42 513.92 L338.84 512.79 L339.26 511.67 L339.68 510.54 L340.09 509.41 L340.49 508.28 L340.9 507.14 L341.29 506.01 L341.69 504.87 L342.08 503.73 L342.46 502.59 L342.84 501.45 L343.22 500.31 L343.6 499.16 L343.97 498.02 L344.33 496.87 L344.69 495.72 L345.05 494.57 L345.41 493.42 L345.76 492.26 L346.1 491.11 L346.45 489.95 L346.79 488.79 L347.12 487.63 L347.46 486.47 L347.79 485.31 L348.11 484.15 L348.43 482.99 L348.75 481.82 L349.07 480.66 L349.38 479.49 L349.69 478.32 L350 477.15 L350.3 475.98 L350.6 474.81 L350.89 473.64 L351.19 472.47 L351.48 471.29 L351.76 470.12 L352.05 468.94 L352.33 467.77 L352.6 466.59 L352.88 465.41 L353.15 464.23 L353.42 463.05 L353.68 461.87 L353.95 460.69 L354.21 459.51 L354.46 458.33 L354.72 457.15 L354.97 455.97 L355.22 454.78 L355.47 453.6 L355.71 452.42 L355.95 451.23 L356.19 450.05 L356.43 448.86 L356.66 447.68 L356.9 446.49 L357.12 445.3 L357.35 444.12 L357.58 442.93 L357.8 441.74 L358.02 440.56 L358.24 439.37 L358.45 438.18 L358.67 437 L358.88 435.81 L359.09 434.62 L359.3 433.44 L359.5 432.25 L359.7 431.06 L359.91 429.87 L360.11 428.69 L360.3 427.5 L360.5 426.31 L360.69 425.13 L360.89 423.94 L361.08 422.76 L361.27 421.57 L361.45 420.39 L361.64 419.2 L361.82 418.02 L362 416.83 L362.18 415.65 L362.36 414.47 L362.54 413.29 L362.72 412.1 L362.89 410.92 L363.07 409.74 L363.24 408.56 L363.41 407.38 L363.58 406.2 L363.75 405.03" fill="none" stroke="#00ffff" stroke-width="2.2" stroke-linejoin="round" stroke-dasharray="10.5 8" stroke-dashoffset="5"/>
<path d="M82 736.02 L82.06 734.8 L82.12 733.59 L82.19 732.38 L82.26 731.17 L82.33 729.96 L82.41 728.75 L82.5 727.55 L82.58 726.34 L82.68 725.14 L82.77 723.94 L82.87 722.74 L82.97 721.54 L83.08 720.34 L83.19 719.14 L83.3 717.94 L83.42 716.75 L83.54 715.55 L83.66 714.36 L83.78 713.17 L83.91 711.97 L84.04 710.78 L84.18 709.59 L84.31 708.4 L84.45 707.21 L84.59 706.02 L84.73 704.83 L84.88 703.65 L85.03 702.46 L85.17 701.27 L85.33 700.08 L85.48 698.9 L85.63 697.71 L85.79 696.52 L85.94 695.33 L86.1 694.15 L86.26 692.96 L86.42 691.77 L86.58 690.58 L86.75 689.39 L86.91 688.2 L87.07 687.02 L87.24 685.83 L87.4 684.64 L87.57 683.45 L87.73 682.25 L87.9 681.06 L88.07 679.87 L88.23 678.68 L88.4 677.48 L88.57 676.29 L88.73 675.09 L88.9 673.89 L89.06 672.69 L89.23 671.5 L89.39 670.3 L89.55 669.09 L89.72 667.89 L89.88 666.69 L90.04 665.48 L90.2 664.27 L90.35 663.06 L90.51 661.85 L90.67 660.64 L90.83 659.43 L91 658.23 L91.18 657.02 L91.38 655.82 L91.58 654.62 L91.81 653.43 L92.05 652.24 L92.32 651.07 L92.62 649.9 L92.94 648.74 L93.3 647.59 L93.69 646.45 L94.11 645.33 L94.58 644.22 L95.09 643.13 L95.64 642.05 L96.26 641.07 L96.97 640.31 L97.8 639.88 L98.75 639.8 L99.77 640.02 L100.84 640.47 L101.94 641.12 L103.01 641.9 L104.05 642.76 L105.01 643.65 L105.91 644.55 L106.74 645.47 L107.54 646.39 L108.3 647.32 L109.05 648.26 L109.79 649.19 L110.54 650.11 L111.3 651.03 L112.07 651.95 L112.86 652.86 L113.65 653.76 L114.46 654.65 L115.27 655.54 L116.1 656.41 L116.94 657.28 L117.79 658.14 L118.65 658.98 L119.53 659.82 L120.41 660.64 L121.3 661.46 L122.21 662.26 L123.12 663.05 L124.05 663.82 L124.98 664.58 L125.93 665.33 L126.88 666.06 L127.85 666.78 L128.82 667.48 L129.81 668.17 L130.8 668.84 L131.81 669.49 L132.82 670.12 L133.85 670.74 L134.88 671.34 L135.92 671.93 L136.97 672.51 L138.03 673.07 L139.09 673.62 L140.16 674.15 L141.24 674.67 L142.32 675.19 L143.41 675.69 L144.51 676.18 L145.61 676.66 L146.71 677.14 L147.82 677.6 L148.93 678.06 L150.05 678.51 L151.17 678.96 L152.29 679.4 L153.42 679.84 L154.54 680.27 L155.67 680.7 L156.8 681.12 L157.93 681.54 L159.07 681.97 L160.2 682.39 L161.33 682.81 L162.46 683.23 L163.6 683.65 L164.73 684.07 L165.86 684.49 L166.99 684.91 L168.12 685.33 L169.25 685.74 L170.38 686.16 L171.51 686.57 L172.64 686.98 L173.78 687.39 L174.91 687.79 L176.05 688.19 L177.18 688.58 L178.32 688.97 L179.46 689.35 L180.6 689.73 L181.74 690.1 L182.88 690.46 L184.03 690.82 L185.18 691.17 L186.33 691.51 L187.48 691.84 L188.63 692.16 L189.79 692.48 L190.95 692.79 L192.11 693.09 L193.27 693.38 L194.44 693.66 L195.6 693.94 L196.77 694.2 L197.95 694.46 L199.12 694.72 L200.29 694.96 L201.47 695.2 L202.65 695.43 L203.83 695.65 L205.01 695.86 L206.19 696.07 L207.38 696.27 L208.56 696.46 L209.75 696.65 L210.94 696.82 L212.13 697 L213.32 697.16 L214.51 697.32 L215.71 697.47 L216.9 697.61 L218.1 697.75 L219.29 697.88 L220.49 698.01 L221.69 698.13 L222.89 698.24 L224.09 698.35 L225.29 698.45 L226.49 698.54 L227.69 698.63 L228.89 698.71 L230.09 698.79 L231.3 698.86 L232.5 698.92 L233.71 698.98 L234.91 699.04 L236.11 699.08 L237.32 699.13 L238.52 699.16 L239.73 699.19 L240.93 699.22 L242.14 699.24 L243.34 699.26 L244.55 699.27 L245.75 699.28 L246.96 699.28 L248.16 699.28 L249.36 699.27 L250.57 699.26 L251.77 699.24 L252.97 699.22 L254.17 699.19 L255.37 699.16 L256.57 699.13 L257.77 699.09 L258.97 699.05 L260.17 699 L261.37 698.95 L262.57 698.89 L263.77 698.83 L264.97 698.77 L266.17 698.71 L267.36 698.64 L268.56 698.56 L269.76 698.49 L270.96 698.41 L272.15 698.32 L273.35 698.24 L274.55 698.15 L275.74 698.05 L276.94 697.96 L278.14 697.86 L279.33 697.76 L280.53 697.65 L281.72 697.55 L282.92 697.44 L284.12 697.32 L285.32 697.21 L286.51 697.09 L287.71 696.97 L288.91 696.85 L290.1 696.73 L291.3 696.6 L292.5 696.47 L293.7 696.34 L294.89 696.21 L296.09 696.07 L297.29 695.94 L298.48 695.8 L299.68 695.66 L300.87 695.52 L302.07 695.38 L303.26 695.24 L304.45 695.09 L305.64 694.95 L306.83 694.8 L308.02 694.65 L309.21 694.5 L310.4 694.35 L311.58 694.2 L312.77 694.05 L313.95 693.9 L315.13 693.74 L316.31 693.59 L317.48 693.43 L318.66 693.28 L319.83 693.12 L321 692.97 L322.17 692.81 L323.34 692.64 L324.5 692.46 L325.65 692.26 L326.81 692.05 L327.95 691.8 L329.09 691.53 L330.22 691.23 L331.35 690.89 L332.47 690.5 L333.58 690.07 L334.68 689.6 L335.77 689.06 L336.85 688.48 L337.92 687.85 L338.99 687.19 L340.05 686.52 L341.11 685.83 L342.16 685.15 L343.22 684.49 L344.28 683.85 L345.33 683.23 L346.38 682.62 L347.41 682.02 L348.44 681.43 L349.45 680.82 L350.43 680.21 L351.4 679.57 L352.33 678.91 L353.23 678.21 L354.1 677.48 L354.93 676.69 L355.72 675.86 L356.46 674.96 L357.16 674.01 L357.82 673.01 L358.45 671.98 L359.05 670.91 L359.63 669.83 L360.2 668.73 L360.76 667.63 L361.3 666.52 L361.84 665.42 L362.37 664.31 L362.89 663.2 L363.4 662.09 L363.9 660.97 L364.4 659.86 L364.88 658.74 L365.36 657.62 L365.83 656.49 L366.28 655.37 L366.74 654.24 L367.18 653.11 L367.62 651.98 L368.04 650.85 L368.46 649.72 L368.87 648.58 L369.28 647.45 L369.68 646.31 L370.07 645.17 L370.45 644.02 L370.82 642.88 L371.19 641.73 L371.55 640.59 L371.91 639.44 L372.25 638.29 L372.59 637.14 L372.93 635.98 L373.26 634.83 L373.58 633.67 L373.89 632.52 L374.2 631.36 L374.5 630.2 L374.8 629.03 L375.09 627.87 L375.38 626.71 L375.65 625.54 L375.93 624.37 L376.2 623.21 L376.46 622.04 L376.72 620.87 L376.97 619.7 L377.21 618.52 L377.46 617.35 L377.69 616.18 L377.92 615 L378.15 613.82 L378.37 612.65 L378.59 611.47 L378.81 610.29 L379.02 609.11 L379.22 607.93 L379.42 606.74 L379.62 605.56 L379.81 604.38 L380 603.19 L380.18 602.01 L380.37 600.82 L380.54 599.64 L380.72 598.45 L380.89 597.26 L381.06 596.07 L381.22 594.88 L381.38 593.69 L381.54 592.5 L381.7 591.31 L381.85 590.12 L382 588.93 L382.15 587.74 L382.29 586.55 L382.44 585.35 L382.58 584.16 L382.72 582.97 L382.85 581.77 L382.98 580.58 L383.11 579.39 L383.24 578.19 L383.37 577 L383.49 575.8 L383.61 574.6 L383.73 573.41 L383.85 572.21 L383.96 571.01 L384.07 569.82 L384.18 568.62 L384.29 567.42 L384.4 566.22 L384.5 565.02 L384.6 563.82 L384.7 562.62 L384.8 561.43 L384.9 560.23 L384.99 559.03 L385.08 557.82 L385.17 556.62 L385.26 555.42 L385.34 554.22 L385.43 553.02 L385.51 551.82 L385.59 550.62 L385.67 549.41 L385.75 548.21 L385.82 547.01 L385.9 545.81 L385.97 544.6 L386.04 543.4 L386.11 542.2 L386.17 540.99 L386.24 539.79 L386.3 538.58 L386.36 537.38 L386.43 536.18 L386.48 534.97 L386.54 533.77 L386.6 532.56 L386.65 531.36 L386.71 530.15 L386.76 528.95 L386.81 527.74 L386.86 526.53 L386.91 525.33 L386.96 524.12 L387 522.92 L387.05 521.71 L387.09 520.5 L387.13 519.3 L387.17 518.09 L387.21 516.88 L387.25 515.68 L387.29 514.47 L387.33 513.26 L387.36 512.06 L387.4 510.85 L387.43 509.64 L387.47 508.44 L387.5 507.23 L387.53 506.02 L387.56 504.81 L387.59 503.61 L387.62 502.4 L387.65 501.19 L387.67 499.98 L387.7 498.78 L387.73 497.57 L387.75 496.36 L387.78 495.16 L387.8 493.95 L387.82 492.74 L387.85 491.53 L387.87 490.33 L387.89 489.12 L387.91 487.91 L387.93 486.7 L387.95 485.5 L387.97 484.29 L387.99 483.08 L388.01 481.88 L388.03 480.67 L388.05 479.46 L388.07 478.26 L388.08 477.05 L388.1 475.84 L388.12 474.64 L388.14 473.43 L388.15 472.23 L388.17 471.02 L388.19 469.81 L388.2 468.61 L388.22 467.4 L388.24 466.2 L388.25 464.99 L388.27 463.79 L388.28 462.58 L388.3 461.38 L388.32 460.17 L388.33 458.97 L388.35 457.76 L388.37 456.56 L388.38 455.35 L388.4 454.15 L388.42 452.95 L388.44 451.74 L388.45 450.54 L388.47 449.34 L388.49 448.14 L388.51 446.93 L388.53 445.73 L388.55 444.53 L388.57 443.33 L388.59 442.13 L388.61 440.92 L388.63 439.72 L388.65 438.52 L388.68 437.32 L388.7 436.12 L388.72 434.92 L388.75 433.72 L388.77 432.52 L388.8 431.32 L388.82 430.12 L388.85 428.93 L388.88 427.73 L388.91 426.53 L388.94 425.33 L388.97 424.14 L389 422.94 L389.03 421.74 L389.06 420.55 L389.09 419.35 L389.13 418.16 L389.16 416.96 L389.2 415.77 L389.24 414.57 L389.28 413.38 L389.32 412.18 L389.36 410.99 L389.4 409.8 L389.44 408.61 L389.49 407.41 L389.53 406.22 L389.58 405.03" fill="none" stroke="#00ff00" stroke-width="1.7" stroke-linejoin="round"/>
<path d="M82 736.04 L82.06 734.81 L82.12 733.59 L82.19 732.37 L82.26 731.15 L82.33 729.93 L82.41 728.72 L82.5 727.51 L82.58 726.3 L82.67 725.09 L82.77 723.89 L82.87 722.69 L82.97 721.49 L83.08 720.29 L83.19 719.09 L83.3 717.9 L83.42 716.7 L83.54 715.51 L83.66 714.32 L83.78 713.14 L83.91 711.95 L84.04 710.76 L84.18 709.58 L84.31 708.39 L84.45 707.21 L84.59 706.03 L84.73 704.84 L84.88 703.66 L85.02 702.48 L85.17 701.3 L85.32 700.12 L85.48 698.94 L85.63 697.76 L85.79 696.57 L85.94 695.39 L86.1 694.21 L86.26 693.03 L86.42 691.85 L86.58 690.66 L86.75 689.48 L86.91 688.29 L87.07 687.11 L87.24 685.92 L87.4 684.73 L87.57 683.54 L87.74 682.35 L87.9 681.16 L88.07 679.97 L88.23 678.77 L88.4 677.58 L88.57 676.38 L88.73 675.18 L88.9 673.97 L89.06 672.77 L89.23 671.56 L89.39 670.35 L89.55 669.14 L89.72 667.92 L89.88 666.7 L90.04 665.48 L90.2 664.26 L90.35 663.04 L90.51 661.81 L90.67 660.58 L90.83 659.35 L91 658.12 L91.18 656.9 L91.37 655.68 L91.58 654.47 L91.8 653.28 L92.05 652.09 L92.32 650.92 L92.61 649.76 L92.93 648.62 L93.28 647.5 L93.67 646.4 L94.09 645.32 L94.56 644.27 L95.06 643.24 L95.61 642.25 L96.22 641.35 L96.93 640.67 L97.74 640.32 L98.67 640.3 L99.68 640.57 L100.73 641.07 L101.8 641.76 L102.86 642.59 L103.88 643.51 L104.84 644.46 L105.71 645.43 L106.53 646.41 L107.29 647.39 L108.03 648.37 L108.75 649.35 L109.46 650.32 L110.18 651.28 L110.92 652.22 L111.67 653.15 L112.44 654.06 L113.23 654.96 L114.04 655.84 L114.85 656.71 L115.69 657.57 L116.53 658.41 L117.39 659.24 L118.27 660.06 L119.15 660.86 L120.05 661.65 L120.96 662.43 L121.89 663.2 L122.82 663.95 L123.76 664.69 L124.71 665.42 L125.67 666.14 L126.64 666.85 L127.62 667.54 L128.61 668.23 L129.6 668.9 L130.6 669.57 L131.61 670.22 L132.62 670.86 L133.64 671.5 L134.66 672.12 L135.69 672.74 L136.72 673.34 L137.76 673.94 L138.81 674.52 L139.86 675.1 L140.92 675.66 L141.98 676.22 L143.04 676.77 L144.11 677.31 L145.19 677.85 L146.27 678.37 L147.35 678.88 L148.44 679.39 L149.53 679.89 L150.63 680.38 L151.73 680.87 L152.83 681.34 L153.94 681.81 L155.05 682.27 L156.17 682.73 L157.28 683.17 L158.41 683.61 L159.53 684.04 L160.66 684.47 L161.79 684.89 L162.92 685.3 L164.06 685.71 L165.19 686.11 L166.33 686.5 L167.48 686.89 L168.62 687.28 L169.77 687.65 L170.92 688.02 L172.07 688.39 L173.22 688.75 L174.38 689.1 L175.54 689.46 L176.69 689.8 L177.85 690.14 L179.01 690.48 L180.17 690.81 L181.34 691.13 L182.5 691.46 L183.66 691.78 L184.83 692.09 L185.99 692.4 L187.16 692.71 L188.32 693.01 L189.49 693.31 L190.66 693.6 L191.82 693.89 L192.99 694.18 L194.16 694.46 L195.33 694.73 L196.5 695 L197.67 695.26 L198.84 695.52 L200.01 695.77 L201.18 696.02 L202.36 696.25 L203.53 696.48 L204.7 696.71 L205.88 696.92 L207.06 697.13 L208.24 697.33 L209.41 697.52 L210.59 697.7 L211.77 697.88 L212.96 698.04 L214.14 698.2 L215.32 698.35 L216.51 698.48 L217.7 698.61 L218.89 698.73 L220.08 698.83 L221.27 698.93 L222.46 699.01 L223.65 699.09 L224.85 699.15 L226.04 699.2 L227.24 699.25 L228.44 699.28 L229.64 699.3 L230.84 699.32 L232.04 699.32 L233.25 699.32 L234.45 699.31 L235.65 699.29 L236.86 699.26 L238.06 699.23 L239.27 699.19 L240.47 699.14 L241.68 699.08 L242.88 699.02 L244.09 698.96 L245.29 698.88 L246.5 698.8 L247.7 698.72 L248.91 698.63 L250.11 698.54 L251.32 698.45 L252.52 698.35 L253.73 698.24 L254.93 698.14 L256.13 698.03 L257.33 697.91 L258.53 697.8 L259.73 697.68 L260.93 697.56 L262.13 697.43 L263.33 697.3 L264.53 697.17 L265.73 697.04 L266.93 696.9 L268.12 696.77 L269.32 696.63 L270.52 696.49 L271.71 696.34 L272.91 696.2 L274.1 696.05 L275.3 695.9 L276.49 695.75 L277.68 695.6 L278.88 695.45 L280.07 695.3 L281.26 695.15 L282.46 694.99 L283.65 694.83 L284.84 694.68 L286.03 694.52 L287.22 694.37 L288.41 694.21 L289.61 694.05 L290.8 693.89 L291.99 693.74 L293.18 693.58 L294.37 693.42 L295.56 693.26 L296.75 693.11 L297.93 692.95 L299.12 692.8 L300.31 692.64 L301.5 692.49 L302.69 692.34 L303.88 692.19 L305.07 692.04 L306.25 691.89 L307.44 691.74 L308.63 691.6 L309.82 691.46 L311 691.31 L312.19 691.18 L313.38 691.04 L314.57 690.9 L315.75 690.77 L316.94 690.64 L318.13 690.51 L319.32 690.39 L320.5 690.26 L321.69 690.14 L322.88 690.02 L324.06 689.9 L325.25 689.78 L326.43 689.64 L327.61 689.5 L328.79 689.35 L329.97 689.19 L331.15 689.02 L332.33 688.83 L333.5 688.62 L334.67 688.39 L335.83 688.14 L336.99 687.87 L338.15 687.57 L339.31 687.24 L340.46 686.89 L341.6 686.5 L342.75 686.08 L343.88 685.63 L345.01 685.14 L346.13 684.61 L347.24 684.05 L348.33 683.45 L349.39 682.82 L350.44 682.15 L351.45 681.45 L352.43 680.71 L353.38 679.94 L354.29 679.14 L355.15 678.3 L355.97 677.43 L356.74 676.52 L357.46 675.58 L358.12 674.61 L358.74 673.62 L359.32 672.6 L359.87 671.56 L360.4 670.51 L360.91 669.44 L361.42 668.37 L361.92 667.29 L362.42 666.21 L362.92 665.13 L363.42 664.04 L363.92 662.95 L364.42 661.86 L364.91 660.77 L365.4 659.67 L365.89 658.57 L366.38 657.46 L366.86 656.36 L367.34 655.25 L367.82 654.14 L368.29 653.02 L368.76 651.91 L369.22 650.79 L369.67 649.66 L370.12 648.54 L370.57 647.41 L371.01 646.28 L371.44 645.15 L371.87 644.02 L372.28 642.88 L372.7 641.74 L373.1 640.6 L373.49 639.46 L373.88 638.32 L374.26 637.17 L374.63 636.02 L374.99 634.87 L375.34 633.72 L375.68 632.56 L376.02 631.4 L376.34 630.25 L376.66 629.08 L376.97 627.92 L377.27 626.76 L377.57 625.59 L377.85 624.43 L378.13 623.26 L378.4 622.09 L378.67 620.92 L378.92 619.74 L379.18 618.57 L379.42 617.39 L379.66 616.22 L379.89 615.04 L380.12 613.86 L380.33 612.68 L380.55 611.5 L380.76 610.32 L380.96 609.13 L381.16 607.95 L381.35 606.76 L381.54 605.58 L381.72 604.39 L381.9 603.2 L382.07 602.01 L382.24 600.82 L382.41 599.63 L382.57 598.44 L382.73 597.25 L382.88 596.06 L383.03 594.86 L383.18 593.67 L383.33 592.48 L383.47 591.28 L383.61 590.09 L383.74 588.89 L383.88 587.7 L384.01 586.5 L384.14 585.31 L384.26 584.11 L384.39 582.92 L384.51 581.72 L384.63 580.52 L384.75 579.33 L384.86 578.13 L384.98 576.93 L385.09 575.74 L385.2 574.54 L385.3 573.34 L385.41 572.14 L385.51 570.94 L385.61 569.75 L385.71 568.55 L385.8 567.35 L385.9 566.15 L385.99 564.95 L386.08 563.75 L386.17 562.55 L386.26 561.35 L386.34 560.15 L386.43 558.95 L386.51 557.75 L386.59 556.55 L386.66 555.35 L386.74 554.15 L386.81 552.95 L386.89 551.75 L386.96 550.55 L387.03 549.35 L387.1 548.15 L387.16 546.94 L387.23 545.74 L387.29 544.54 L387.35 543.34 L387.41 542.14 L387.47 540.93 L387.53 539.73 L387.58 538.53 L387.64 537.33 L387.69 536.12 L387.74 534.92 L387.79 533.72 L387.84 532.51 L387.89 531.31 L387.94 530.11 L387.98 528.9 L388.03 527.7 L388.07 526.5 L388.11 525.29 L388.15 524.09 L388.19 522.89 L388.23 521.68 L388.27 520.48 L388.31 519.27 L388.34 518.07 L388.38 516.87 L388.41 515.66 L388.45 514.46 L388.48 513.25 L388.51 512.05 L388.54 510.84 L388.57 509.64 L388.6 508.44 L388.63 507.23 L388.65 506.03 L388.68 504.82 L388.71 503.62 L388.73 502.41 L388.76 501.21 L388.78 500 L388.81 498.8 L388.83 497.59 L388.85 496.39 L388.87 495.18 L388.89 493.98 L388.92 492.77 L388.94 491.57 L388.96 490.36 L388.98 489.16 L389 487.95 L389.01 486.75 L389.03 485.54 L389.05 484.34 L389.07 483.13 L389.09 481.93 L389.11 480.72 L389.12 479.52 L389.14 478.32 L389.16 477.11 L389.18 475.91 L389.19 474.7 L389.21 473.5 L389.23 472.29 L389.24 471.09 L389.26 469.88 L389.28 468.68 L389.3 467.48 L389.31 466.27 L389.33 465.07 L389.35 463.86 L389.37 462.66 L389.38 461.46 L389.4 460.25 L389.42 459.05 L389.44 457.84 L389.46 456.64 L389.48 455.44 L389.5 454.23 L389.52 453.03 L389.54 451.83 L389.56 450.62 L389.58 449.42 L389.6 448.22 L389.62 447.02 L389.65 445.81 L389.67 444.61 L389.69 443.41 L389.72 442.21 L389.74 441 L389.77 439.8 L389.79 438.6 L389.82 437.4 L389.85 436.2 L389.88 435 L389.9 433.79 L389.93 432.59 L389.97 431.39 L390 430.19 L390.03 428.99 L390.06 427.79 L390.1 426.59 L390.13 425.39 L390.17 424.19 L390.2 422.99 L390.24 421.79 L390.28 420.59 L390.32 419.39 L390.36 418.19 L390.41 416.99 L390.45 415.79 L390.49 414.6 L390.54 413.4 L390.59 412.2 L390.63 411 L390.68 409.8 L390.73 408.61 L390.79 407.41 L390.84 406.21 L390.89 405.02" fill="none" stroke="#0000ff" stroke-width="2" stroke-linejoin="round"/>
<path d="M81.87 736.13 L82 734.87 L82.12 733.61 L82.24 732.35 L82.36 731.1 L82.48 729.86 L82.59 728.62 L82.71 727.39 L82.82 726.16 L82.94 724.93 L83.05 723.72 L83.16 722.5 L83.27 721.29 L83.38 720.08 L83.49 718.88 L83.6 717.68 L83.71 716.48 L83.82 715.29 L83.93 714.1 L84.04 712.91 L84.16 711.73 L84.27 710.54 L84.38 709.37 L84.49 708.19 L84.6 707.01 L84.72 705.84 L84.83 704.67 L84.95 703.5 L85.06 702.33 L85.18 701.16 L85.3 699.99 L85.42 698.83 L85.54 697.66 L85.67 696.49 L85.8 695.33 L85.92 694.16 L86.05 693 L86.19 691.83 L86.32 690.67 L86.46 689.5 L86.6 688.33 L86.74 687.17 L86.89 686 L87.04 684.82 L87.19 683.65 L87.34 682.48 L87.5 681.3 L87.66 680.12 L87.82 678.94 L87.99 677.76 L88.16 676.58 L88.34 675.39 L88.52 674.2 L88.7 673 L88.89 671.8 L89.08 670.6 L89.28 669.4 L89.48 668.19 L89.68 666.98 L89.89 665.76 L90.11 664.54 L90.33 663.32 L90.55 662.09 L90.78 660.85 L91.02 659.61 L91.26 658.37 L91.5 657.11 L91.75 655.86 L92.01 654.6 L92.27 653.33 L92.54 652.05 L92.82 650.77 L93.1 649.49 L93.39 648.21 L93.7 646.94 L94.04 645.71 L94.4 644.53 L94.8 643.4 L95.24 642.34 L95.73 641.37 L96.27 640.5 L96.87 639.74 L97.54 639.1 L98.27 638.6 L99.09 638.24 L99.99 638.06 L100.94 638.06 L101.92 638.27 L102.91 638.67 L103.91 639.23 L104.9 639.91 L105.89 640.69 L106.86 641.54 L107.8 642.43 L108.73 643.34 L109.64 644.27 L110.53 645.21 L111.42 646.16 L112.3 647.1 L113.18 648.03 L114.07 648.94 L114.96 649.82 L115.86 650.68 L116.78 651.49 L117.72 652.25 L118.68 652.96 L119.66 653.61 L120.67 654.2 L121.7 654.75 L122.75 655.24 L123.82 655.69 L124.91 656.09 L126.02 656.46 L127.14 656.78 L128.28 657.08 L129.42 657.34 L130.58 657.57 L131.75 657.78 L132.93 657.97 L134.12 658.14 L135.31 658.29 L136.51 658.42 L137.71 658.55 L138.92 658.67 L140.12 658.79 L141.33 658.9 L142.53 659.01 L143.74 659.12 L144.94 659.22 L146.15 659.32 L147.36 659.42 L148.56 659.52 L149.77 659.61 L150.98 659.7 L152.19 659.78 L153.39 659.87 L154.6 659.95 L155.81 660.02 L157.02 660.1 L158.23 660.16 L159.44 660.23 L160.64 660.29 L161.85 660.35 L163.06 660.41 L164.27 660.46 L165.48 660.51 L166.69 660.56 L167.9 660.6 L169.11 660.64 L170.32 660.67 L171.53 660.71 L172.73 660.73 L173.94 660.76 L175.15 660.78 L176.36 660.8 L177.57 660.81 L178.78 660.82 L179.99 660.83 L181.19 660.83 L182.4 660.83 L183.61 660.82 L184.82 660.81 L186.02 660.8 L187.23 660.78 L188.44 660.76 L189.64 660.73 L190.85 660.7 L192.05 660.67 L193.26 660.63 L194.46 660.59 L195.67 660.54 L196.87 660.49 L198.08 660.44 L199.28 660.38 L200.48 660.32 L201.68 660.25 L202.89 660.18 L204.09 660.1 L205.29 660.02 L206.49 659.94 L207.69 659.85 L208.89 659.76 L210.09 659.66 L211.28 659.56 L212.48 659.45 L213.68 659.34 L214.87 659.22 L216.07 659.1 L217.26 658.98 L218.46 658.85 L219.65 658.71 L220.85 658.57 L222.04 658.43 L223.23 658.28 L224.42 658.13 L225.61 657.97 L226.8 657.8 L227.99 657.64 L229.17 657.46 L230.36 657.28 L231.54 657.1 L232.73 656.91 L233.91 656.72 L235.1 656.52 L236.28 656.32 L237.46 656.11 L238.64 655.9 L239.82 655.68 L240.99 655.45 L242.17 655.22 L243.35 654.99 L244.52 654.75 L245.7 654.51 L246.87 654.25 L248.04 654 L249.21 653.74 L250.38 653.47 L251.55 653.2 L252.72 652.92 L253.88 652.64 L255.05 652.35 L256.21 652.06 L257.37 651.76 L258.53 651.45 L259.69 651.14 L260.85 650.82 L262.01 650.5 L263.16 650.17 L264.32 649.84 L265.47 649.5 L266.62 649.15 L267.77 648.8 L268.92 648.45 L270.07 648.08 L271.21 647.72 L272.36 647.34 L273.5 646.96 L274.64 646.58 L275.78 646.19 L276.92 645.79 L278.06 645.39 L279.2 644.99 L280.33 644.58 L281.46 644.16 L282.59 643.74 L283.72 643.31 L284.85 642.88 L285.98 642.45 L287.1 642.01 L288.22 641.56 L289.34 641.11 L290.46 640.66 L291.58 640.2 L292.69 639.74 L293.81 639.27 L294.92 638.8 L296.03 638.32 L297.14 637.84 L298.25 637.35 L299.35 636.86 L300.45 636.37 L301.55 635.87 L302.65 635.37 L303.75 634.87 L304.84 634.36 L305.94 633.84 L307.03 633.33 L308.12 632.81 L309.2 632.28 L310.29 631.75 L311.37 631.22 L312.45 630.69 L313.53 630.15 L314.61 629.61 L315.68 629.06 L316.75 628.51 L317.82 627.96 L318.89 627.39 L319.95 626.83 L321 626.25 L322.05 625.67 L323.09 625.08 L324.13 624.48 L325.16 623.87 L326.18 623.25 L327.19 622.62 L328.2 621.98 L329.19 621.33 L330.18 620.66 L331.16 619.98 L332.12 619.28 L333.08 618.58 L334.02 617.85 L334.95 617.11 L335.87 616.35 L336.78 615.58 L337.67 614.79 L338.55 613.97 L339.41 613.14 L340.26 612.3 L341.09 611.43 L341.91 610.54 L342.72 609.64 L343.51 608.73 L344.28 607.79 L345.05 606.85 L345.79 605.89 L346.52 604.92 L347.24 603.93 L347.95 602.94 L348.63 601.93 L349.31 600.91 L349.97 599.89 L350.62 598.85 L351.25 597.81 L351.87 596.76 L352.47 595.71 L353.06 594.65 L353.63 593.58 L354.2 592.51 L354.74 591.44 L355.28 590.36 L355.8 589.27 L356.31 588.19 L356.81 587.09 L357.3 586 L357.78 584.89 L358.24 583.79 L358.69 582.68 L359.14 581.56 L359.57 580.45 L359.99 579.33 L360.41 578.2 L360.81 577.08 L361.21 575.94 L361.6 574.81 L361.98 573.67 L362.35 572.54 L362.71 571.39 L363.07 570.25 L363.42 569.1 L363.76 567.95 L364.1 566.8 L364.43 565.65 L364.76 564.49 L365.08 563.33 L365.4 562.17 L365.71 561.01 L366.01 559.85 L366.32 558.69 L366.62 557.52 L366.91 556.35 L367.2 555.19 L367.49 554.02 L367.78 552.85 L368.07 551.68 L368.35 550.51 L368.63 549.34 L368.91 548.17 L369.19 546.99 L369.47 545.82 L369.74 544.65 L370.01 543.48 L370.28 542.3 L370.55 541.13 L370.81 539.95 L371.08 538.78 L371.34 537.6 L371.59 536.42 L371.85 535.25 L372.1 534.07 L372.35 532.89 L372.6 531.71 L372.85 530.53 L373.09 529.35 L373.33 528.17 L373.57 526.99 L373.8 525.81 L374.04 524.63 L374.27 523.45 L374.49 522.26 L374.72 521.08 L374.94 519.9 L375.15 518.72 L375.37 517.53 L375.58 516.35 L375.79 515.16 L375.99 513.98 L376.19 512.79 L376.39 511.6 L376.59 510.42 L376.78 509.23 L376.97 508.04 L377.15 506.86 L377.34 505.67 L377.52 504.48 L377.69 503.29 L377.87 502.1 L378.04 500.91 L378.2 499.72 L378.37 498.53 L378.53 497.34 L378.69 496.15 L378.85 494.96 L379 493.77 L379.15 492.57 L379.3 491.38 L379.44 490.19 L379.59 489 L379.73 487.8 L379.87 486.61 L380 485.41 L380.14 484.22 L380.27 483.03 L380.4 481.83 L380.52 480.64 L380.65 479.44 L380.77 478.24 L380.89 477.05 L381.01 475.85 L381.12 474.66 L381.24 473.46 L381.35 472.26 L381.46 471.07 L381.57 469.87 L381.68 468.67 L381.78 467.47 L381.88 466.27 L381.99 465.08 L382.09 463.88 L382.18 462.68 L382.28 461.48 L382.38 460.28 L382.47 459.08 L382.56 457.88 L382.65 456.68 L382.74 455.48 L382.83 454.28 L382.92 453.08 L383.01 451.88 L383.09 450.68 L383.17 449.48 L383.26 448.28 L383.34 447.08 L383.42 445.88 L383.5 444.68 L383.58 443.48 L383.66 442.27 L383.73 441.07 L383.81 439.87 L383.89 438.67 L383.96 437.47 L384.03 436.27 L384.11 435.06 L384.18 433.86 L384.25 432.66 L384.33 431.46 L384.4 430.25 L384.47 429.05 L384.54 427.85 L384.61 426.65 L384.68 425.44 L384.75 424.24 L384.82 423.04 L384.89 421.83 L384.96 420.63 L385.03 419.43 L385.1 418.23 L385.17 417.02 L385.24 415.82 L385.31 414.62 L385.38 413.41 L385.45 412.21 L385.52 411.01 L385.6 409.8 L385.67 408.6 L385.74 407.4 L385.81 406.2 L385.88 404.99" fill="none" stroke="#000" stroke-width="2.35" stroke-linejoin="round" stroke-dasharray="0.01 7.5" stroke-linecap="round" stroke-dashoffset="-3"/>
<path d="M81.99 736.09 L82.05 734.83 L82.12 733.58 L82.19 732.34 L82.27 731.1 L82.35 729.86 L82.43 728.63 L82.51 727.41 L82.6 726.19 L82.7 724.98 L82.79 723.77 L82.89 722.56 L83 721.36 L83.1 720.16 L83.21 718.97 L83.33 717.78 L83.44 716.59 L83.56 715.4 L83.68 714.22 L83.81 713.04 L83.93 711.86 L84.06 710.68 L84.19 709.51 L84.33 708.34 L84.46 707.17 L84.6 706 L84.74 704.83 L84.88 703.66 L85.03 702.49 L85.17 701.32 L85.32 700.16 L85.47 698.99 L85.62 697.82 L85.77 696.66 L85.93 695.49 L86.08 694.32 L86.24 693.15 L86.4 691.98 L86.56 690.8 L86.72 689.63 L86.88 688.45 L87.04 687.28 L87.2 686.1 L87.37 684.91 L87.53 683.73 L87.7 682.54 L87.86 681.35 L88.03 680.15 L88.19 678.96 L88.36 677.75 L88.53 676.55 L88.69 675.34 L88.86 674.12 L89.03 672.91 L89.19 671.68 L89.36 670.45 L89.52 669.22 L89.69 667.98 L89.85 666.74 L90.02 665.49 L90.18 664.23 L90.35 662.97 L90.51 661.7 L90.67 660.43 L90.84 659.16 L91.02 657.9 L91.21 656.64 L91.41 655.39 L91.63 654.15 L91.86 652.93 L92.12 651.72 L92.4 650.54 L92.7 649.38 L93.04 648.25 L93.41 647.16 L93.81 646.09 L94.25 645.07 L94.73 644.08 L95.25 643.14 L95.82 642.24 L96.42 641.45 L97.04 640.85 L97.65 640.51 L98.24 640.51 L98.81 640.84 L99.34 641.48 L99.85 642.37 L100.36 643.46 L100.85 644.7 L101.36 646.04 L101.87 647.42 L102.41 648.78 L102.97 650.08 L103.57 651.3 L104.18 652.46 L104.81 653.57 L105.46 654.63 L106.11 655.66 L106.76 656.67 L107.41 657.67 L108.05 658.68 L108.67 659.69 L109.28 660.72 L109.89 661.75 L110.49 662.79 L111.09 663.82 L111.7 664.86 L112.32 665.88 L112.96 666.89 L113.61 667.89 L114.28 668.87 L114.98 669.82 L115.72 670.76 L116.49 671.66 L117.29 672.53 L118.15 673.36 L119.05 674.15 L119.99 674.9 L120.98 675.61 L122 676.29 L123.05 676.93 L124.12 677.54 L125.22 678.11 L126.32 678.66 L127.43 679.18 L128.55 679.67 L129.67 680.13 L130.8 680.57 L131.93 680.99 L133.07 681.38 L134.21 681.75 L135.35 682.09 L136.5 682.42 L137.65 682.72 L138.81 683 L139.97 683.26 L141.13 683.51 L142.29 683.73 L143.46 683.94 L144.64 684.13 L145.81 684.31 L146.99 684.47 L148.17 684.62 L149.36 684.75 L150.54 684.87 L151.73 684.98 L152.92 685.07 L154.12 685.16 L155.31 685.23 L156.51 685.3 L157.71 685.35 L158.91 685.4 L160.12 685.45 L161.32 685.48 L162.53 685.51 L163.73 685.54 L164.94 685.56 L166.15 685.58 L167.36 685.6 L168.57 685.61 L169.78 685.62 L170.99 685.63 L172.2 685.65 L173.42 685.66 L174.63 685.67 L175.84 685.69 L177.05 685.71 L178.27 685.73 L179.48 685.75 L180.69 685.78 L181.9 685.8 L183.11 685.83 L184.33 685.85 L185.54 685.88 L186.75 685.91 L187.96 685.94 L189.17 685.96 L190.39 685.99 L191.6 686.02 L192.81 686.05 L194.02 686.07 L195.23 686.1 L196.44 686.12 L197.65 686.15 L198.86 686.17 L200.07 686.19 L201.28 686.21 L202.48 686.23 L203.69 686.25 L204.9 686.26 L206.11 686.27 L207.31 686.28 L208.52 686.29 L209.73 686.29 L210.93 686.29 L212.14 686.29 L213.34 686.29 L214.54 686.28 L215.75 686.26 L216.95 686.25 L218.15 686.23 L219.35 686.2 L220.55 686.17 L221.75 686.14 L222.95 686.1 L224.15 686.06 L225.34 686.01 L226.54 685.95 L227.74 685.89 L228.93 685.83 L230.12 685.76 L231.32 685.68 L232.51 685.6 L233.7 685.51 L234.89 685.41 L236.08 685.31 L237.27 685.2 L238.46 685.09 L239.64 684.96 L240.83 684.83 L242.01 684.69 L243.2 684.55 L244.38 684.39 L245.56 684.23 L246.74 684.06 L247.92 683.88 L249.1 683.7 L250.27 683.5 L251.45 683.3 L252.62 683.08 L253.79 682.86 L254.97 682.63 L256.14 682.39 L257.3 682.13 L258.47 681.87 L259.64 681.6 L260.8 681.32 L261.97 681.03 L263.13 680.72 L264.29 680.41 L265.45 680.08 L266.61 679.75 L267.76 679.4 L268.92 679.05 L270.07 678.69 L271.22 678.32 L272.38 677.94 L273.53 677.56 L274.68 677.16 L275.83 676.77 L276.97 676.37 L278.12 675.96 L279.27 675.55 L280.41 675.14 L281.56 674.73 L282.7 674.31 L283.84 673.89 L284.99 673.47 L286.13 673.06 L287.27 672.64 L288.41 672.22 L289.55 671.8 L290.69 671.39 L291.84 670.98 L292.98 670.57 L294.12 670.17 L295.26 669.77 L296.4 669.38 L297.54 668.99 L298.68 668.61 L299.82 668.23 L300.96 667.87 L302.1 667.51 L303.24 667.15 L304.38 666.81 L305.53 666.47 L306.67 666.13 L307.81 665.8 L308.95 665.47 L310.1 665.15 L311.24 664.83 L312.38 664.51 L313.53 664.19 L314.67 663.87 L315.81 663.55 L316.96 663.23 L318.1 662.91 L319.25 662.59 L320.39 662.27 L321.54 661.94 L322.69 661.61 L323.83 661.27 L324.98 660.93 L326.13 660.59 L327.27 660.24 L328.42 659.88 L329.57 659.51 L330.72 659.14 L331.87 658.75 L333.02 658.36 L334.17 657.96 L335.32 657.54 L336.47 657.12 L337.62 656.68 L338.76 656.23 L339.9 655.76 L341.02 655.27 L342.13 654.76 L343.23 654.23 L344.31 653.67 L345.36 653.08 L346.4 652.47 L347.41 651.83 L348.38 651.15 L349.33 650.44 L350.24 649.69 L351.12 648.9 L351.96 648.07 L352.75 647.2 L353.51 646.3 L354.24 645.36 L354.93 644.39 L355.6 643.39 L356.24 642.37 L356.86 641.34 L357.46 640.29 L358.05 639.23 L358.63 638.16 L359.21 637.09 L359.77 636.01 L360.32 634.94 L360.87 633.85 L361.41 632.77 L361.94 631.68 L362.46 630.58 L362.97 629.49 L363.48 628.39 L363.98 627.28 L364.47 626.18 L364.95 625.07 L365.42 623.95 L365.89 622.84 L366.35 621.72 L366.8 620.6 L367.24 619.47 L367.68 618.35 L368.1 617.22 L368.52 616.08 L368.94 614.95 L369.34 613.81 L369.74 612.68 L370.13 611.54 L370.52 610.39 L370.89 609.25 L371.26 608.1 L371.62 606.96 L371.98 605.81 L372.33 604.66 L372.67 603.5 L373 602.35 L373.33 601.19 L373.65 600.04 L373.96 598.88 L374.27 597.72 L374.57 596.56 L374.87 595.4 L375.16 594.23 L375.44 593.07 L375.71 591.9 L375.99 590.73 L376.25 589.57 L376.51 588.39 L376.76 587.22 L377.01 586.05 L377.25 584.88 L377.49 583.7 L377.72 582.53 L377.94 581.35 L378.16 580.17 L378.38 578.99 L378.59 577.81 L378.8 576.63 L379 575.45 L379.19 574.27 L379.38 573.08 L379.57 571.9 L379.75 570.71 L379.93 569.52 L380.1 568.34 L380.27 567.15 L380.44 565.96 L380.6 564.77 L380.75 563.58 L380.91 562.38 L381.06 561.19 L381.2 560 L381.34 558.81 L381.48 557.61 L381.62 556.42 L381.75 555.22 L381.88 554.02 L382 552.83 L382.12 551.63 L382.24 550.43 L382.36 549.23 L382.47 548.03 L382.58 546.83 L382.69 545.63 L382.79 544.43 L382.9 543.23 L383 542.03 L383.09 540.83 L383.19 539.62 L383.28 538.42 L383.37 537.22 L383.46 536.01 L383.55 534.81 L383.64 533.61 L383.72 532.4 L383.8 531.2 L383.88 530 L383.96 528.79 L384.04 527.59 L384.12 526.38 L384.19 525.18 L384.27 523.97 L384.34 522.77 L384.41 521.56 L384.49 520.36 L384.56 519.15 L384.63 517.95 L384.7 516.74 L384.77 515.53 L384.83 514.33 L384.9 513.13 L384.97 511.92 L385.04 510.72 L385.11 509.51 L385.17 508.31 L385.24 507.1 L385.31 505.9 L385.38 504.7 L385.45 503.49 L385.52 502.29 L385.59 501.09 L385.66 499.88 L385.73 498.68 L385.8 497.48 L385.87 496.28 L385.94 495.08 L386.01 493.88 L386.08 492.67 L386.16 491.47 L386.23 490.27 L386.3 489.07 L386.37 487.87 L386.45 486.67 L386.52 485.47 L386.59 484.27 L386.67 483.07 L386.74 481.87 L386.81 480.67 L386.89 479.47 L386.96 478.27 L387.03 477.08 L387.11 475.88 L387.18 474.68 L387.25 473.48 L387.33 472.28 L387.4 471.08 L387.47 469.88 L387.55 468.68 L387.62 467.48 L387.69 466.29 L387.77 465.09 L387.84 463.89 L387.91 462.69 L387.98 461.49 L388.06 460.29 L388.13 459.09 L388.2 457.9 L388.27 456.7 L388.34 455.5 L388.41 454.3 L388.48 453.1 L388.56 451.9 L388.63 450.7 L388.69 449.5 L388.76 448.3 L388.83 447.1 L388.9 445.9 L388.97 444.7 L389.04 443.5 L389.1 442.3 L389.17 441.1 L389.24 439.9 L389.3 438.7 L389.37 437.5 L389.43 436.3 L389.5 435.1 L389.56 433.9 L389.62 432.7 L389.69 431.49 L389.75 430.29 L389.81 429.09 L389.87 427.89 L389.93 426.68 L389.99 425.48 L390.05 424.28 L390.1 423.07 L390.16 421.87 L390.22 420.67 L390.27 419.46 L390.33 418.26 L390.38 417.05 L390.43 415.85 L390.48 414.64 L390.54 413.43 L390.59 412.23 L390.64 411.02 L390.68 409.81 L390.73 408.6 L390.78 407.4 L390.82 406.19 L390.87 404.98" fill="none" stroke="#000" stroke-width="2.3" stroke-linejoin="round" stroke-dasharray="10 8.2" stroke-dashoffset="-6"/>
<path d="M81.95 736.07 L82.04 734.83 L82.13 733.6 L82.22 732.37 L82.31 731.14 L82.4 729.92 L82.5 728.7 L82.59 727.48 L82.69 726.26 L82.79 725.05 L82.89 723.84 L82.99 722.63 L83.1 721.43 L83.2 720.23 L83.31 719.03 L83.42 717.83 L83.53 716.63 L83.64 715.44 L83.76 714.25 L83.87 713.06 L83.99 711.87 L84.11 710.68 L84.23 709.5 L84.36 708.31 L84.48 707.13 L84.61 705.95 L84.74 704.77 L84.87 703.59 L85 702.41 L85.13 701.23 L85.27 700.05 L85.41 698.88 L85.55 697.7 L85.69 696.52 L85.83 695.34 L85.98 694.17 L86.12 692.99 L86.27 691.81 L86.42 690.64 L86.58 689.46 L86.73 688.28 L86.89 687.1 L87.05 685.92 L87.21 684.74 L87.37 683.56 L87.54 682.38 L87.7 681.19 L87.87 680.01 L88.04 678.82 L88.22 677.63 L88.39 676.44 L88.57 675.25 L88.75 674.06 L88.93 672.86 L89.11 671.67 L89.3 670.47 L89.49 669.26 L89.68 668.06 L89.87 666.85 L90.06 665.64 L90.26 664.43 L90.46 663.22 L90.66 662 L90.86 660.78 L91.07 659.56 L91.27 658.33 L91.48 657.1 L91.69 655.87 L91.91 654.63 L92.12 653.39 L92.34 652.14 L92.56 650.9 L92.79 649.65 L93.02 648.4 L93.28 647.18 L93.58 645.99 L93.93 644.85 L94.34 643.77 L94.82 642.77 L95.38 641.86 L96.04 641.05 L96.82 640.36 L97.71 639.8 L98.7 639.45 L99.75 639.39 L100.82 639.63 L101.91 640.11 L102.97 640.77 L104 641.55 L104.96 642.39 L105.86 643.26 L106.72 644.17 L107.53 645.1 L108.32 646.04 L109.09 646.99 L109.86 647.94 L110.63 648.88 L111.4 649.82 L112.19 650.75 L112.98 651.66 L113.78 652.57 L114.58 653.47 L115.4 654.35 L116.23 655.23 L117.06 656.09 L117.9 656.94 L118.76 657.78 L119.62 658.61 L120.5 659.42 L121.39 660.22 L122.29 661.01 L123.2 661.78 L124.12 662.54 L125.06 663.29 L126 664.02 L126.96 664.73 L127.93 665.44 L128.92 666.12 L129.91 666.8 L130.92 667.46 L131.93 668.1 L132.95 668.73 L133.99 669.35 L135.03 669.96 L136.08 670.55 L137.14 671.13 L138.21 671.7 L139.28 672.25 L140.36 672.79 L141.45 673.32 L142.54 673.84 L143.64 674.34 L144.75 674.84 L145.86 675.32 L146.97 675.79 L148.09 676.24 L149.22 676.69 L150.34 677.13 L151.47 677.55 L152.6 677.96 L153.74 678.36 L154.87 678.76 L156.01 679.14 L157.15 679.51 L158.29 679.88 L159.43 680.24 L160.57 680.6 L161.72 680.95 L162.86 681.3 L164.01 681.64 L165.16 681.99 L166.3 682.33 L167.45 682.68 L168.6 683.03 L169.74 683.38 L170.89 683.74 L172.04 684.1 L173.19 684.46 L174.33 684.82 L175.48 685.17 L176.63 685.52 L177.79 685.87 L178.94 686.21 L180.1 686.54 L181.26 686.85 L182.42 687.15 L183.59 687.44 L184.76 687.71 L185.93 687.96 L187.11 688.19 L188.29 688.4 L189.48 688.6 L190.67 688.78 L191.86 688.94 L193.05 689.1 L194.25 689.24 L195.45 689.39 L196.64 689.52 L197.84 689.66 L199.04 689.79 L200.24 689.93 L201.43 690.08 L202.63 690.23 L203.82 690.39 L205.02 690.56 L206.2 690.75 L207.39 690.95 L208.57 691.17 L209.75 691.41 L210.92 691.67 L212.09 691.95 L213.26 692.25 L214.42 692.56 L215.58 692.88 L216.74 693.21 L217.9 693.53 L219.07 693.85 L220.23 694.15 L221.4 694.45 L222.58 694.72 L223.75 694.98 L224.94 695.21 L226.12 695.42 L227.31 695.61 L228.5 695.78 L229.7 695.92 L230.9 696.03 L232.1 696.13 L233.3 696.19 L234.5 696.23 L235.7 696.25 L236.9 696.23 L238.1 696.19 L239.3 696.13 L240.5 696.03 L241.7 695.91 L242.9 695.77 L244.1 695.61 L245.29 695.45 L246.49 695.28 L247.68 695.11 L248.88 694.95 L250.07 694.8 L251.27 694.67 L252.47 694.56 L253.66 694.49 L254.86 694.43 L256.06 694.4 L257.26 694.39 L258.47 694.4 L259.67 694.42 L260.87 694.46 L262.07 694.51 L263.27 694.57 L264.48 694.65 L265.68 694.72 L266.88 694.81 L268.08 694.89 L269.29 694.98 L270.49 695.06 L271.69 695.15 L272.89 695.22 L274.09 695.3 L275.29 695.37 L276.49 695.44 L277.69 695.51 L278.89 695.57 L280.09 695.63 L281.29 695.68 L282.49 695.73 L283.69 695.77 L284.89 695.81 L286.1 695.84 L287.3 695.86 L288.5 695.88 L289.7 695.89 L290.91 695.9 L292.11 695.91 L293.31 695.92 L294.52 695.93 L295.72 695.94 L296.92 695.95 L298.12 695.97 L299.32 696 L300.52 696.04 L301.72 696.1 L302.92 696.16 L304.11 696.24 L305.3 696.34 L306.5 696.46 L307.68 696.59 L308.87 696.75 L310.05 696.94 L311.23 697.14 L312.41 697.38 L313.58 697.65 L314.75 697.94 L315.92 698.25 L317.09 698.57 L318.25 698.91 L319.42 699.26 L320.58 699.61 L321.74 699.97 L322.91 700.32 L324.07 700.66 L325.23 700.99 L326.4 701.3 L327.56 701.6 L328.73 701.87 L329.9 702.11 L331.08 702.32 L332.25 702.49 L333.43 702.63 L334.62 702.72 L335.8 702.76 L337 702.75 L338.19 702.71 L339.4 702.64 L340.6 702.54 L341.82 702.44 L343.04 702.33 L344.26 702.23 L345.49 702.14 L346.72 702.06 L347.95 701.96 L349.15 701.83 L350.32 701.62 L351.45 701.32 L352.52 700.89 L353.55 700.35 L354.54 699.72 L355.49 699.01 L356.43 698.24 L357.35 697.44 L358.26 696.63 L359.18 695.82 L360.11 695.02 L361.04 694.23 L361.97 693.44 L362.89 692.65 L363.8 691.86 L364.7 691.06 L365.58 690.24 L366.44 689.4 L367.27 688.55 L368.08 687.66 L368.85 686.75 L369.59 685.82 L370.31 684.87 L371 683.89 L371.66 682.89 L372.29 681.88 L372.91 680.85 L373.49 679.8 L374.06 678.73 L374.6 677.66 L375.12 676.57 L375.62 675.46 L376.1 674.35 L376.57 673.23 L377.01 672.1 L377.44 670.97 L377.85 669.83 L378.24 668.69 L378.62 667.54 L378.99 666.39 L379.34 665.24 L379.67 664.08 L380 662.93 L380.31 661.76 L380.61 660.6 L380.9 659.43 L381.17 658.27 L381.44 657.09 L381.69 655.92 L381.94 654.75 L382.17 653.57 L382.4 652.39 L382.62 651.21 L382.83 650.02 L383.04 648.84 L383.23 647.65 L383.42 646.47 L383.61 645.28 L383.79 644.09 L383.96 642.9 L384.13 641.7 L384.3 640.51 L384.46 639.32 L384.62 638.12 L384.77 636.93 L384.93 635.73 L385.08 634.54 L385.23 633.34 L385.38 632.15 L385.53 630.95 L385.68 629.75 L385.83 628.56 L385.98 627.36 L386.14 626.17 L386.29 624.97 L386.45 623.78 L386.61 622.59 L386.78 621.39 L386.94 620.2 L387.11 619.01 L387.28 617.82 L387.44 616.63 L387.6 615.44 L387.76 614.24 L387.91 613.05 L388.05 611.86 L388.19 610.67 L388.32 609.47 L388.43 608.28 L388.54 607.08 L388.63 605.89 L388.71 604.69 L388.78 603.49 L388.85 602.29 L388.9 601.09 L388.94 599.89 L388.98 598.69 L389.01 597.49 L389.03 596.29 L389.04 595.08 L389.05 593.88 L389.06 592.68 L389.06 591.47 L389.06 590.27 L389.05 589.06 L389.05 587.85 L389.04 586.65 L389.03 585.44 L389.02 584.24 L389.01 583.03 L389 581.82 L389 580.62 L388.99 579.41 L388.99 578.21 L389 577 L389 575.8 L389.01 574.59 L389.03 573.39 L389.05 572.18 L389.07 570.98 L389.1 569.78 L389.12 568.57 L389.16 567.37 L389.19 566.17 L389.23 564.96 L389.27 563.76 L389.31 562.56 L389.36 561.35 L389.4 560.15 L389.45 558.95 L389.5 557.75 L389.56 556.55 L389.61 555.34 L389.66 554.14 L389.72 552.94 L389.78 551.74 L389.84 550.54 L389.89 549.34 L389.95 548.14 L390.01 546.93 L390.07 545.73 L390.13 544.53 L390.19 543.33 L390.25 542.13 L390.3 540.93 L390.36 539.72 L390.42 538.52 L390.47 537.32 L390.52 536.12 L390.58 534.92 L390.63 533.72 L390.68 532.51 L390.73 531.31 L390.78 530.11 L390.82 528.91 L390.87 527.71 L390.92 526.5 L390.96 525.3 L391 524.1 L391.05 522.9 L391.09 521.7 L391.13 520.49 L391.17 519.29 L391.21 518.09 L391.25 516.89 L391.28 515.68 L391.32 514.48 L391.35 513.28 L391.39 512.08 L391.42 510.87 L391.46 509.67 L391.49 508.47 L391.52 507.26 L391.55 506.06 L391.58 504.86 L391.61 503.66 L391.64 502.45 L391.67 501.25 L391.7 500.05 L391.72 498.84 L391.75 497.64 L391.77 496.44 L391.8 495.23 L391.82 494.03 L391.85 492.83 L391.87 491.63 L391.89 490.42 L391.91 489.22 L391.93 488.02 L391.95 486.81 L391.97 485.61 L391.99 484.41 L392.01 483.2 L392.03 482 L392.05 480.8 L392.07 479.59 L392.08 478.39 L392.1 477.19 L392.12 475.98 L392.13 474.78 L392.15 473.58 L392.16 472.37 L392.18 471.17 L392.19 469.96 L392.21 468.76 L392.22 467.56 L392.23 466.35 L392.25 465.15 L392.26 463.95 L392.27 462.74 L392.28 461.54 L392.3 460.34 L392.31 459.13 L392.32 457.93 L392.33 456.73 L392.34 455.52 L392.35 454.32 L392.36 453.12 L392.37 451.91 L392.38 450.71 L392.39 449.51 L392.4 448.3 L392.41 447.1 L392.42 445.9 L392.43 444.69 L392.44 443.49 L392.45 442.29 L392.46 441.08 L392.47 439.88 L392.48 438.68 L392.49 437.47 L392.5 436.27 L392.51 435.07 L392.52 433.87 L392.53 432.66 L392.54 431.46 L392.55 430.26 L392.56 429.05 L392.57 427.85 L392.58 426.65 L392.59 425.44 L392.6 424.24 L392.61 423.04 L392.62 421.84 L392.63 420.63 L392.64 419.43 L392.65 418.23 L392.66 417.03 L392.67 415.82 L392.68 414.62 L392.7 413.42 L392.71 412.22 L392.72 411.01 L392.73 409.81 L392.75 408.61 L392.76 407.41 L392.77 406.2 L392.79 405" fill="none" stroke="#000" stroke-width="2.1" stroke-linejoin="round"/>
</g>
<rect x="80" y="411" width="315.8" height="321.5" fill="none" stroke="#000" stroke-width="2"/>
<line x1="93.05" y1="732.5" x2="93.05" y2="720.9" stroke="#000" stroke-width="1"/>
<line x1="93.05" y1="411" x2="93.05" y2="422.6" stroke="#000" stroke-width="1"/>
<line x1="105.65" y1="732.5" x2="105.65" y2="720.9" stroke="#000" stroke-width="1"/>
<line x1="105.65" y1="411" x2="105.65" y2="422.6" stroke="#000" stroke-width="1"/>
<line x1="118.25" y1="732.5" x2="118.25" y2="720.9" stroke="#000" stroke-width="1"/>
<line x1="118.25" y1="411" x2="118.25" y2="422.6" stroke="#000" stroke-width="1"/>
<line x1="130.85" y1="732.5" x2="130.85" y2="720.9" stroke="#000" stroke-width="1"/>
<line x1="130.85" y1="411" x2="130.85" y2="422.6" stroke="#000" stroke-width="1"/>
<line x1="143.45" y1="732.5" x2="143.45" y2="719.3" stroke="#000" stroke-width="1"/>
<line x1="143.45" y1="411" x2="143.45" y2="424.2" stroke="#000" stroke-width="1"/>
<line x1="156.05" y1="732.5" x2="156.05" y2="720.9" stroke="#000" stroke-width="1"/>
<line x1="156.05" y1="411" x2="156.05" y2="422.6" stroke="#000" stroke-width="1"/>
<line x1="168.65" y1="732.5" x2="168.65" y2="720.9" stroke="#000" stroke-width="1"/>
<line x1="168.65" y1="411" x2="168.65" y2="422.6" stroke="#000" stroke-width="1"/>
<line x1="181.25" y1="732.5" x2="181.25" y2="720.9" stroke="#000" stroke-width="1"/>
<line x1="181.25" y1="411" x2="181.25" y2="422.6" stroke="#000" stroke-width="1"/>
<line x1="193.85" y1="732.5" x2="193.85" y2="720.9" stroke="#000" stroke-width="1"/>
<line x1="193.85" y1="411" x2="193.85" y2="422.6" stroke="#000" stroke-width="1"/>
<line x1="206.45" y1="732.5" x2="206.45" y2="719.3" stroke="#000" stroke-width="1"/>
<line x1="206.45" y1="411" x2="206.45" y2="424.2" stroke="#000" stroke-width="1"/>
<line x1="219.05" y1="732.5" x2="219.05" y2="720.9" stroke="#000" stroke-width="1"/>
<line x1="219.05" y1="411" x2="219.05" y2="422.6" stroke="#000" stroke-width="1"/>
<line x1="231.65" y1="732.5" x2="231.65" y2="720.9" stroke="#000" stroke-width="1"/>
<line x1="231.65" y1="411" x2="231.65" y2="422.6" stroke="#000" stroke-width="1"/>
<line x1="244.25" y1="732.5" x2="244.25" y2="720.9" stroke="#000" stroke-width="1"/>
<line x1="244.25" y1="411" x2="244.25" y2="422.6" stroke="#000" stroke-width="1"/>
<line x1="256.85" y1="732.5" x2="256.85" y2="720.9" stroke="#000" stroke-width="1"/>
<line x1="256.85" y1="411" x2="256.85" y2="422.6" stroke="#000" stroke-width="1"/>
<line x1="269.45" y1="732.5" x2="269.45" y2="719.3" stroke="#000" stroke-width="1"/>
<line x1="269.45" y1="411" x2="269.45" y2="424.2" stroke="#000" stroke-width="1"/>
<line x1="282.05" y1="732.5" x2="282.05" y2="720.9" stroke="#000" stroke-width="1"/>
<line x1="282.05" y1="411" x2="282.05" y2="422.6" stroke="#000" stroke-width="1"/>
<line x1="294.65" y1="732.5" x2="294.65" y2="720.9" stroke="#000" stroke-width="1"/>
<line x1="294.65" y1="411" x2="294.65" y2="422.6" stroke="#000" stroke-width="1"/>
<line x1="307.25" y1="732.5" x2="307.25" y2="720.9" stroke="#000" stroke-width="1"/>
<line x1="307.25" y1="411" x2="307.25" y2="422.6" stroke="#000" stroke-width="1"/>
<line x1="319.85" y1="732.5" x2="319.85" y2="720.9" stroke="#000" stroke-width="1"/>
<line x1="319.85" y1="411" x2="319.85" y2="422.6" stroke="#000" stroke-width="1"/>
<line x1="332.45" y1="732.5" x2="332.45" y2="719.3" stroke="#000" stroke-width="1"/>
<line x1="332.45" y1="411" x2="332.45" y2="424.2" stroke="#000" stroke-width="1"/>
<line x1="345.05" y1="732.5" x2="345.05" y2="720.9" stroke="#000" stroke-width="1"/>
<line x1="345.05" y1="411" x2="345.05" y2="422.6" stroke="#000" stroke-width="1"/>
<line x1="357.65" y1="732.5" x2="357.65" y2="720.9" stroke="#000" stroke-width="1"/>
<line x1="357.65" y1="411" x2="357.65" y2="422.6" stroke="#000" stroke-width="1"/>
<line x1="370.25" y1="732.5" x2="370.25" y2="720.9" stroke="#000" stroke-width="1"/>
<line x1="370.25" y1="411" x2="370.25" y2="422.6" stroke="#000" stroke-width="1"/>
<line x1="382.85" y1="732.5" x2="382.85" y2="720.9" stroke="#000" stroke-width="1"/>
<line x1="382.85" y1="411" x2="382.85" y2="422.6" stroke="#000" stroke-width="1"/>
<line x1="80" y1="718.71" x2="85.9" y2="718.71" stroke="#000" stroke-width="1"/>
<line x1="395.8" y1="718.71" x2="389.9" y2="718.71" stroke="#000" stroke-width="1"/>
<line x1="80" y1="705.36" x2="92.2" y2="705.36" stroke="#000" stroke-width="1"/>
<line x1="395.8" y1="705.36" x2="383.6" y2="705.36" stroke="#000" stroke-width="1"/>
<line x1="80" y1="692.01" x2="85.9" y2="692.01" stroke="#000" stroke-width="1"/>
<line x1="395.8" y1="692.01" x2="389.9" y2="692.01" stroke="#000" stroke-width="1"/>
<line x1="80" y1="678.66" x2="92.2" y2="678.66" stroke="#000" stroke-width="1"/>
<line x1="395.8" y1="678.66" x2="383.6" y2="678.66" stroke="#000" stroke-width="1"/>
<line x1="80" y1="665.31" x2="85.9" y2="665.31" stroke="#000" stroke-width="1"/>
<line x1="395.8" y1="665.31" x2="389.9" y2="665.31" stroke="#000" stroke-width="1"/>
<line x1="80" y1="651.96" x2="92.2" y2="651.96" stroke="#000" stroke-width="1"/>
<line x1="395.8" y1="651.96" x2="383.6" y2="651.96" stroke="#000" stroke-width="1"/>
<line x1="80" y1="638.61" x2="85.9" y2="638.61" stroke="#000" stroke-width="1"/>
<line x1="395.8" y1="638.61" x2="389.9" y2="638.61" stroke="#000" stroke-width="1"/>
<line x1="80" y1="625.26" x2="92.2" y2="625.26" stroke="#000" stroke-width="1"/>
<line x1="395.8" y1="625.26" x2="383.6" y2="625.26" stroke="#000" stroke-width="1"/>
<line x1="80" y1="611.91" x2="85.9" y2="611.91" stroke="#000" stroke-width="1"/>
<line x1="395.8" y1="611.91" x2="389.9" y2="611.91" stroke="#000" stroke-width="1"/>
<line x1="80" y1="598.57" x2="92.2" y2="598.57" stroke="#000" stroke-width="1"/>
<line x1="395.8" y1="598.57" x2="383.6" y2="598.57" stroke="#000" stroke-width="1"/>
<line x1="80" y1="585.22" x2="85.9" y2="585.22" stroke="#000" stroke-width="1"/>
<line x1="395.8" y1="585.22" x2="389.9" y2="585.22" stroke="#000" stroke-width="1"/>
<line x1="80" y1="571.87" x2="92.2" y2="571.87" stroke="#000" stroke-width="1"/>
<line x1="395.8" y1="571.87" x2="383.6" y2="571.87" stroke="#000" stroke-width="1"/>
<line x1="80" y1="558.52" x2="85.9" y2="558.52" stroke="#000" stroke-width="1"/>
<line x1="395.8" y1="558.52" x2="389.9" y2="558.52" stroke="#000" stroke-width="1"/>
<line x1="80" y1="545.17" x2="92.2" y2="545.17" stroke="#000" stroke-width="1"/>
<line x1="395.8" y1="545.17" x2="383.6" y2="545.17" stroke="#000" stroke-width="1"/>
<line x1="80" y1="531.82" x2="85.9" y2="531.82" stroke="#000" stroke-width="1"/>
<line x1="395.8" y1="531.82" x2="389.9" y2="531.82" stroke="#000" stroke-width="1"/>
<line x1="80" y1="518.47" x2="92.2" y2="518.47" stroke="#000" stroke-width="1"/>
<line x1="395.8" y1="518.47" x2="383.6" y2="518.47" stroke="#000" stroke-width="1"/>
<line x1="80" y1="505.12" x2="85.9" y2="505.12" stroke="#000" stroke-width="1"/>
<line x1="395.8" y1="505.12" x2="389.9" y2="505.12" stroke="#000" stroke-width="1"/>
<line x1="80" y1="491.77" x2="92.2" y2="491.77" stroke="#000" stroke-width="1"/>
<line x1="395.8" y1="491.77" x2="383.6" y2="491.77" stroke="#000" stroke-width="1"/>
<line x1="80" y1="478.43" x2="85.9" y2="478.43" stroke="#000" stroke-width="1"/>
<line x1="395.8" y1="478.43" x2="389.9" y2="478.43" stroke="#000" stroke-width="1"/>
<line x1="80" y1="465.08" x2="92.2" y2="465.08" stroke="#000" stroke-width="1"/>
<line x1="395.8" y1="465.08" x2="383.6" y2="465.08" stroke="#000" stroke-width="1"/>
<line x1="80" y1="451.73" x2="85.9" y2="451.73" stroke="#000" stroke-width="1"/>
<line x1="395.8" y1="451.73" x2="389.9" y2="451.73" stroke="#000" stroke-width="1"/>
<line x1="80" y1="438.38" x2="92.2" y2="438.38" stroke="#000" stroke-width="1"/>
<line x1="395.8" y1="438.38" x2="383.6" y2="438.38" stroke="#000" stroke-width="1"/>
<line x1="80" y1="425.03" x2="85.9" y2="425.03" stroke="#000" stroke-width="1"/>
<line x1="395.8" y1="425.03" x2="389.9" y2="425.03" stroke="#000" stroke-width="1"/>
<text x="76.3" y="419.78" font-family='"Liberation Sans", sans-serif' font-size="20.4" fill="#000" text-anchor="end" font-weight="bold">1.0</text>
<text x="76.3" y="473.18" font-family='"Liberation Sans", sans-serif' font-size="20.4" fill="#000" text-anchor="end" font-weight="bold">0.8</text>
<text x="76.3" y="526.57" font-family='"Liberation Sans", sans-serif' font-size="20.4" fill="#000" text-anchor="end" font-weight="bold">0.6</text>
<text x="76.3" y="579.97" font-family='"Liberation Sans", sans-serif' font-size="20.4" fill="#000" text-anchor="end" font-weight="bold">0.4</text>
<text x="76.3" y="633.36" font-family='"Liberation Sans", sans-serif' font-size="20.4" fill="#000" text-anchor="end" font-weight="bold">0.2</text>
<text x="76.3" y="686.76" font-family='"Liberation Sans", sans-serif' font-size="20.4" fill="#000" text-anchor="end" font-weight="bold">0.0</text>
<text x="76.3" y="740.16" font-family='"Liberation Sans", sans-serif' font-size="20.4" fill="#000" text-anchor="end" font-weight="bold">−0.2</text>
<text x="83.75" y="754.4" font-family='"Liberation Sans", sans-serif' font-size="20.4" fill="#000" text-anchor="middle" font-weight="bold">0</text>
<text x="146.15" y="754.4" font-family='"Liberation Sans", sans-serif' font-size="20.4" fill="#000" text-anchor="middle" font-weight="bold">5</text>
<text x="209.15" y="754.4" font-family='"Liberation Sans", sans-serif' font-size="20.4" fill="#000" text-anchor="middle" font-weight="bold">10</text>
<text x="272.15" y="754.4" font-family='"Liberation Sans", sans-serif' font-size="20.4" fill="#000" text-anchor="middle" font-weight="bold">15</text>
<text x="335.15" y="754.4" font-family='"Liberation Sans", sans-serif' font-size="20.4" fill="#000" text-anchor="middle" font-weight="bold">20</text>
<text x="398.15" y="754.4" font-family='"Liberation Sans", sans-serif' font-size="20.4" fill="#000" text-anchor="middle" font-weight="bold">25</text>
<text x="237.4" y="789.4" font-family='"Liberation Sans", sans-serif' font-size="20.6" fill="#000" text-anchor="middle" font-weight="normal">r (Mpc/h)</text>
<text transform="translate(26.0,636.6) rotate(-90)" font-family='"Liberation Sans", sans-serif' font-size="17.8" text-anchor="start" fill="#000" textLength="126.0" lengthAdjust="spacing">ξ(<tspan font-size="20.2">r</tspan>)/ξ<tspan font-size="14.6" dy="0.8">hydro</tspan><tspan dy="-0.8">(</tspan><tspan font-size="20.2">r</tspan>)−1</text>
<text x="105.4" y="443.7" font-family='"Liberation Sans", sans-serif' font-size="16.8" fill="#ff0000" text-anchor="start" font-weight="normal">LyMAS (ρ)</text>
<text x="241.9" y="443.7" font-family='"Liberation Sans", sans-serif' font-size="16.8" fill="#ff00ff" text-anchor="start" font-weight="normal">LyMAS2 (ρ)</text>
<text x="105.4" y="472" font-family='"Liberation Sans", sans-serif' font-size="16.8" fill="#00ff00" text-anchor="start" font-weight="normal">LyMAS2 (ρ,Ω)</text>
<text x="241.9" y="472" font-family='"Liberation Sans", sans-serif' font-size="16.8" fill="#0000ff" text-anchor="start" font-weight="normal">LyMAS2 (ρ,σ)</text>
<text x="105.4" y="503.1" font-family='"Liberation Sans", sans-serif' font-size="16.8" fill="#00ffff">LyMAS2 (ρ,<tspan x="203.7" dy="1.4" font-size="12.3">1d</tspan><tspan x="216.4" dy="-1.4">)</tspan></text>
<path d="M193 492 L203.9 492 L198.34 504.3 Z M195.4 492.95 L202.55 492.95 L198.89 502.1 Z" fill="#00ffff" fill-rule="evenodd"/>
<text x="105.4" y="523.3" font-family='"Liberation Sans", sans-serif' font-size="16.8" fill="#00ffff">LyMAS2 (ρ,<tspan x="203.7" dy="1.4" font-size="12.3">3d</tspan><tspan x="216.4" dy="-1.4">)</tspan></text>
<path d="M193 512.2 L203.9 512.2 L198.34 524.5 Z M195.4 513.15 L202.55 513.15 L198.89 522.3 Z" fill="#00ffff" fill-rule="evenodd"/>
<text x="105.4" y="554.1" font-family='"Liberation Sans", sans-serif' font-size="16.8" fill="#000" text-anchor="start" font-weight="normal">LyMAS2 (ρ,σ,Ω)</text>
<text x="105.4" y="576.7" font-family='"Liberation Sans", sans-serif' font-size="16.8" fill="#000">LyMAS2 (ρ,σ,<tspan x="218.7" dy="1.4" font-size="12.3">1d</tspan><tspan x="231.4" dy="-1.4">)</tspan></text>
<path d="M208 565.6 L218.9 565.6 L213.34 577.9 Z M210.4 566.55 L217.55 566.55 L213.89 575.7 Z" fill="#000" fill-rule="evenodd"/>
<text x="105.4" y="597.5" font-family='"Liberation Sans", sans-serif' font-size="16.8" fill="#000">LyMAS2 (ρ,σ,<tspan x="218.7" dy="1.4" font-size="12.3">3d</tspan><tspan x="231.4" dy="-1.4">)</tspan></text>
<path d="M208 586.4 L218.9 586.4 L213.34 598.7 Z M210.4 587.35 L217.55 587.35 L213.89 596.5 Z" fill="#000" fill-rule="evenodd"/>
<line x1="231.1" y1="498.3" x2="247.1" y2="498.3" stroke="#00ffff" stroke-width="1.1"/>
<line x1="231.1" y1="520.9" x2="236.4" y2="520.9" stroke="#00ffff" stroke-width="1.1"/>
<line x1="240.4" y1="520.9" x2="246.1" y2="520.9" stroke="#00ffff" stroke-width="1.1"/>
<line x1="246.1" y1="548.7" x2="263.6" y2="548.7" stroke="#000" stroke-width="1.1"/>
<line x1="246.2" y1="571.3" x2="263.4" y2="571.3" stroke="#000" stroke-width="1.1" stroke-dasharray="1.1 1.85"/>
<line x1="246.4" y1="593.7" x2="251.7" y2="593.7" stroke="#000" stroke-width="1.1"/>
<line x1="255.6" y1="593.7" x2="261.4" y2="593.7" stroke="#000" stroke-width="1.1"/>
</svg>
</body></html>
